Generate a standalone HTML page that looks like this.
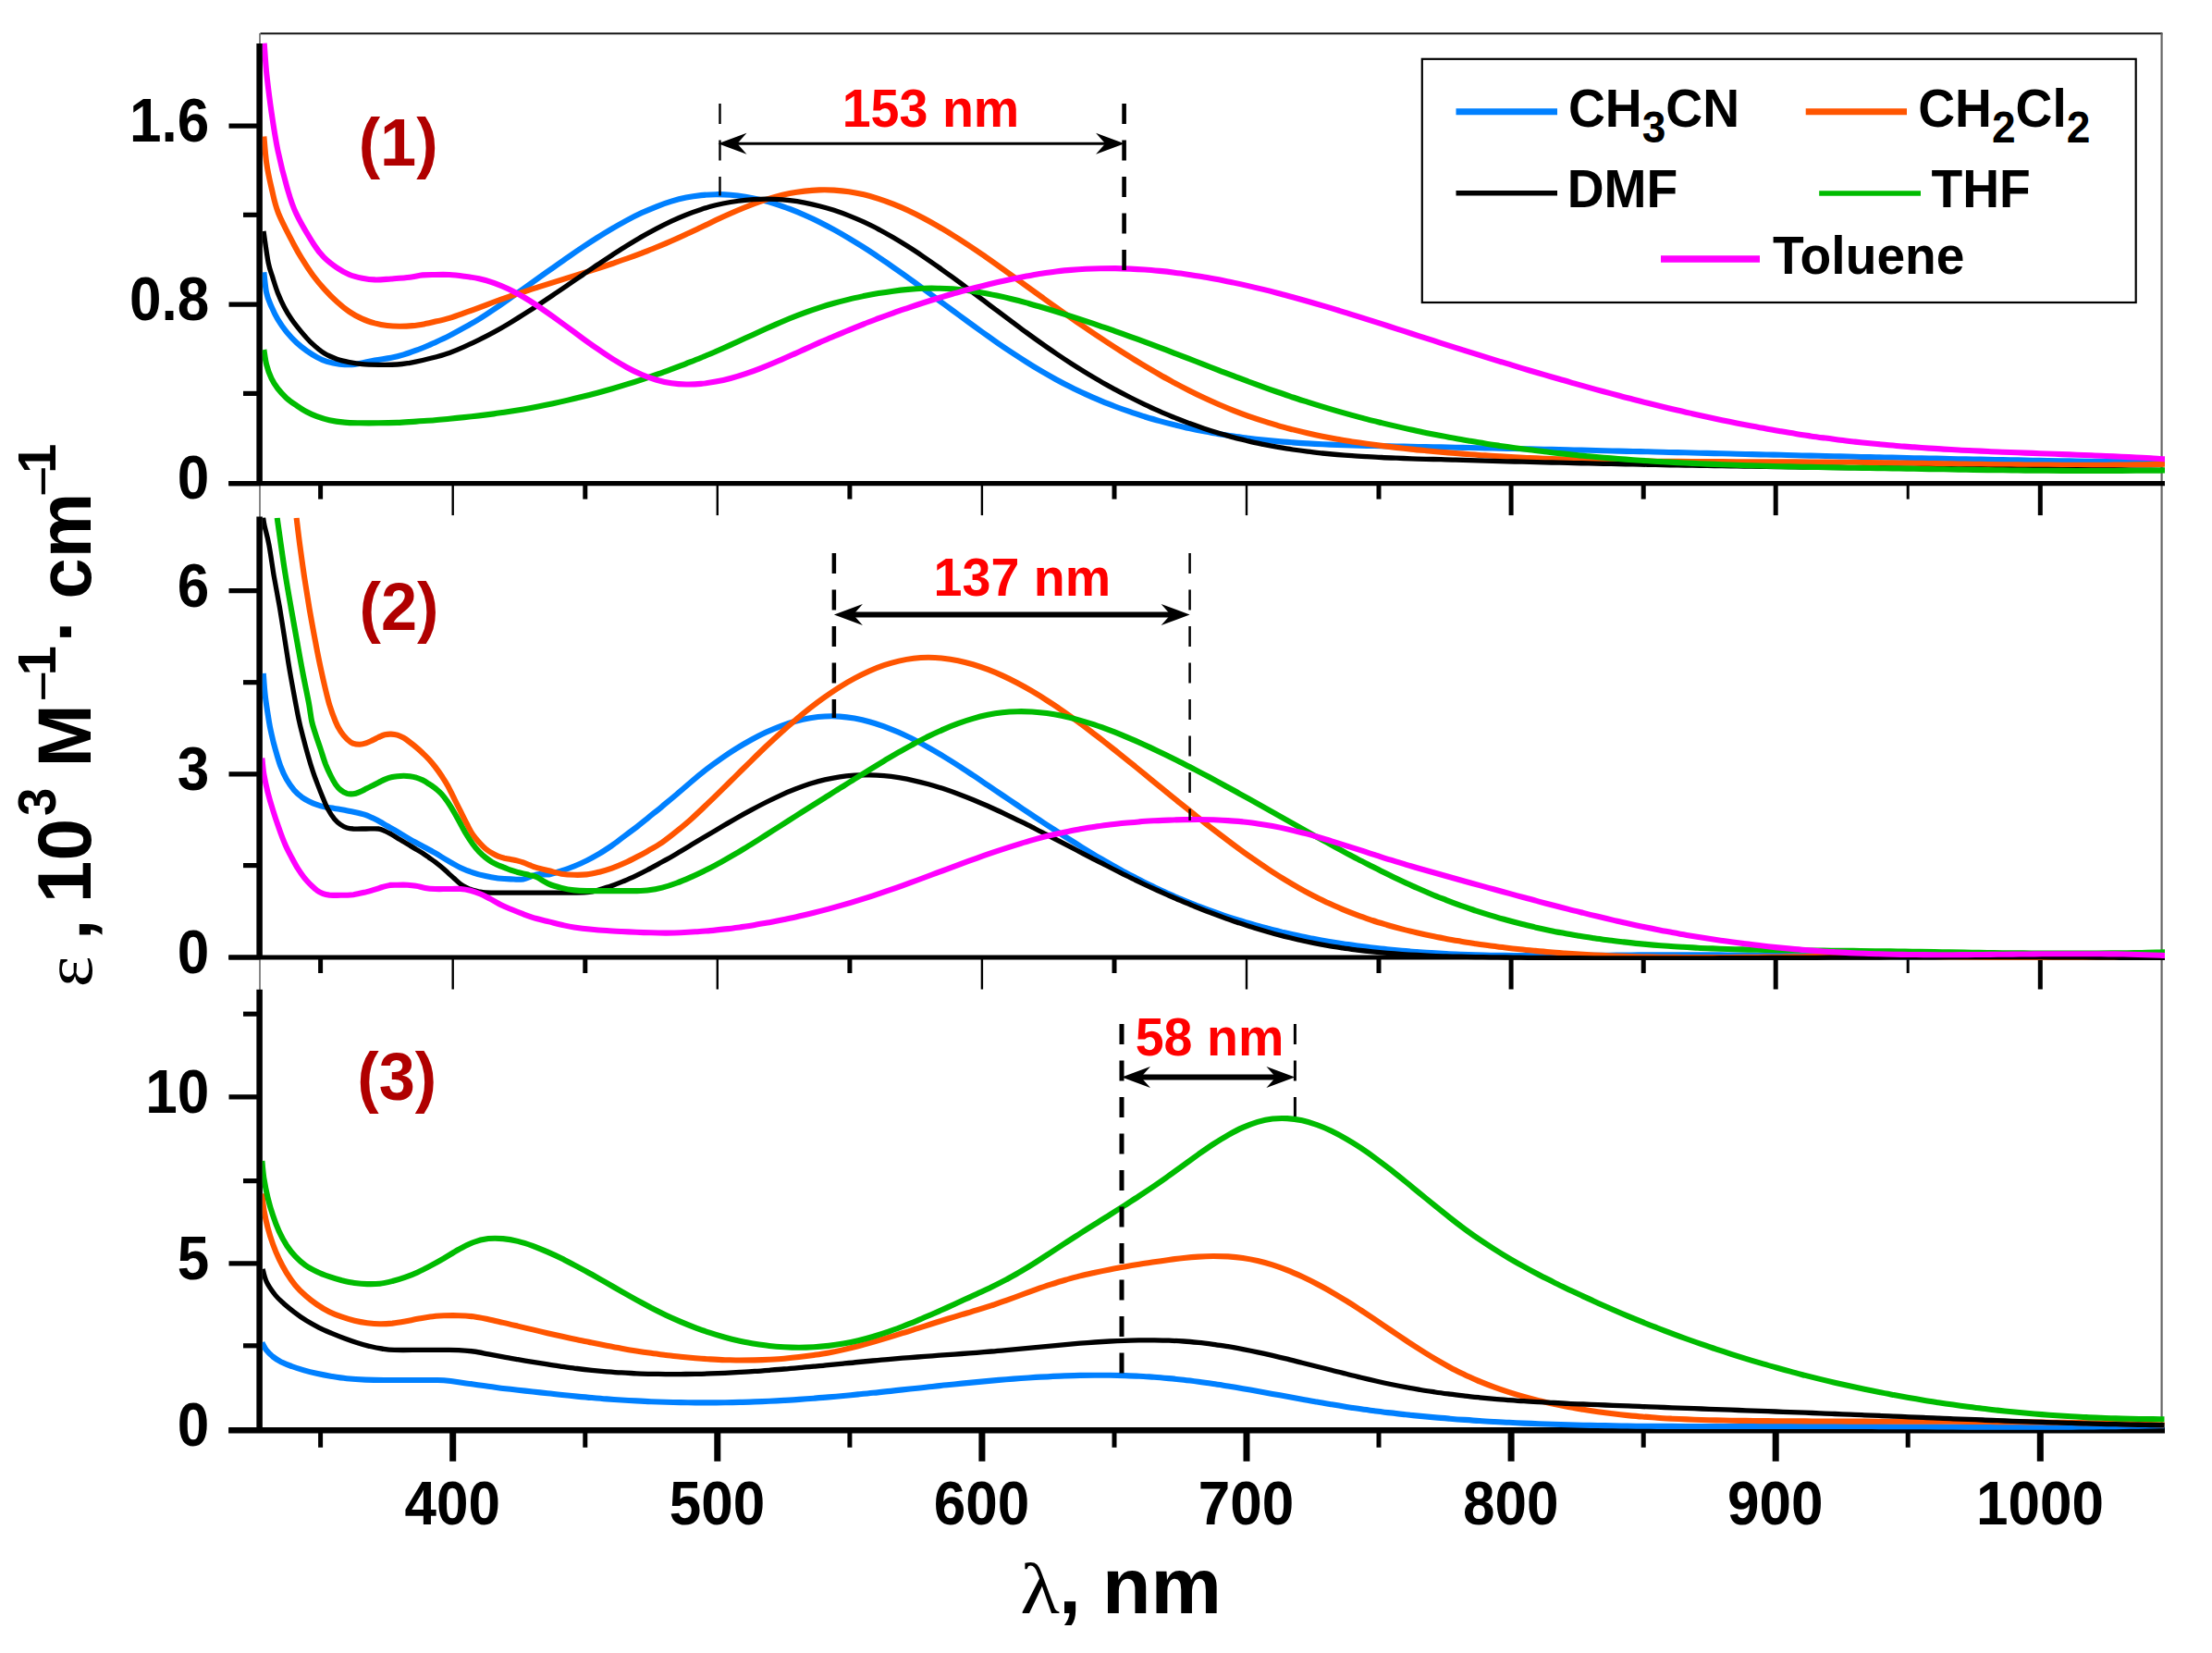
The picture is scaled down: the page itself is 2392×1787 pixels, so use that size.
<!DOCTYPE html>
<html><head><meta charset="utf-8"><title>UV-vis absorption spectra</title>
<style>html,body{margin:0;padding:0;background:#fff}svg{display:block}text{font-family:"Liberation Sans",Arial,sans-serif;font-weight:bold}.sym{font-family:"Liberation Serif","DejaVu Serif",serif;font-weight:normal}.n{font-weight:normal}</style></head><body>
<svg xmlns="http://www.w3.org/2000/svg" width="2392" height="1787" viewBox="0 0 2392 1787">
<rect width="2392" height="1787" fill="#fff"/>
<g fill="none" stroke-linecap="butt">
<path d="M281.5,36.3 H2338.5" stroke="#111" stroke-width="2"/>
<path d="M2337.6,36 V1546" stroke="#666" stroke-width="2.2"/>
<path d="M281,36 V1546" stroke="#555" stroke-width="1.4"/>
</g>
<g stroke="#000" fill="none">
<path d="M280.6,47.0 V522.6" stroke-width="6.5"/>
<path d="M247.2,522.6 H2341.0" stroke-width="5.2"/>
<path d="M346.6,522.6 V539.6" stroke-width="5.0"/>
<path d="M489.7,522.6 V557.1" stroke-width="2.4"/>
<path d="M632.8,522.6 V539.6" stroke-width="5.0"/>
<path d="M775.8,522.6 V557.1" stroke-width="2.4"/>
<path d="M918.9,522.6 V539.6" stroke-width="5.0"/>
<path d="M1061.9,522.6 V557.1" stroke-width="2.4"/>
<path d="M1205.0,522.6 V539.6" stroke-width="5.0"/>
<path d="M1348.0,522.6 V557.1" stroke-width="2.4"/>
<path d="M1491.0,522.6 V539.6" stroke-width="5.0"/>
<path d="M1634.1,522.6 V557.1" stroke-width="5.0"/>
<path d="M1777.2,522.6 V539.6" stroke-width="5.0"/>
<path d="M1920.2,522.6 V557.1" stroke-width="5.0"/>
<path d="M2063.2,522.6 V539.6" stroke-width="3.0"/>
<path d="M2206.3,522.6 V557.1" stroke-width="5.0"/>
<path d="M247.5,136.1 H280.6" stroke-width="5.2"/>
<path d="M263.0,232.3 H280.6" stroke-width="5.2"/>
<path d="M247.5,329.2 H280.6" stroke-width="5.2"/>
<path d="M263.0,425.4 H280.6" stroke-width="5.2"/>
<path d="M247.5,522.6 H280.6" stroke-width="5.2"/>
</g>
<g stroke="#000" fill="none">
<path d="M280.6,558.4 V1035.0" stroke-width="6.5"/>
<path d="M247.2,1035.0 H2341.0" stroke-width="5.2"/>
<path d="M346.6,1035.0 V1052.0" stroke-width="5.0"/>
<path d="M489.7,1035.0 V1069.5" stroke-width="2.4"/>
<path d="M632.8,1035.0 V1052.0" stroke-width="5.0"/>
<path d="M775.8,1035.0 V1069.5" stroke-width="2.4"/>
<path d="M918.9,1035.0 V1052.0" stroke-width="5.0"/>
<path d="M1061.9,1035.0 V1069.5" stroke-width="2.4"/>
<path d="M1205.0,1035.0 V1052.0" stroke-width="5.0"/>
<path d="M1348.0,1035.0 V1069.5" stroke-width="2.4"/>
<path d="M1491.0,1035.0 V1052.0" stroke-width="5.0"/>
<path d="M1634.1,1035.0 V1069.5" stroke-width="5.0"/>
<path d="M1777.2,1035.0 V1052.0" stroke-width="5.0"/>
<path d="M1920.2,1035.0 V1069.5" stroke-width="5.0"/>
<path d="M2063.2,1035.0 V1052.0" stroke-width="3.0"/>
<path d="M2206.3,1035.0 V1069.5" stroke-width="5.0"/>
<path d="M247.5,638.7 H280.6" stroke-width="5.2"/>
<path d="M263.0,737.7 H280.6" stroke-width="5.2"/>
<path d="M247.5,836.8 H280.6" stroke-width="5.2"/>
<path d="M263.0,935.6 H280.6" stroke-width="5.2"/>
<path d="M247.5,1035.0 H280.6" stroke-width="5.2"/>
</g>
<g stroke="#000" fill="none">
<path d="M280.6,1069.7 V1546.3" stroke-width="6.5"/>
<path d="M247.2,1546.3 H2341.0" stroke-width="6.6"/>
<path d="M346.6,1546.3 V1564.8" stroke-width="5.0"/>
<path d="M489.7,1546.3 V1579.8" stroke-width="7.0"/>
<path d="M632.8,1546.3 V1564.8" stroke-width="5.0"/>
<path d="M775.8,1546.3 V1579.8" stroke-width="7.0"/>
<path d="M918.9,1546.3 V1564.8" stroke-width="5.0"/>
<path d="M1061.9,1546.3 V1579.8" stroke-width="7.0"/>
<path d="M1205.0,1546.3 V1564.8" stroke-width="5.0"/>
<path d="M1348.0,1546.3 V1579.8" stroke-width="7.0"/>
<path d="M1491.0,1546.3 V1564.8" stroke-width="5.0"/>
<path d="M1634.1,1546.3 V1579.8" stroke-width="7.0"/>
<path d="M1777.2,1546.3 V1564.8" stroke-width="5.0"/>
<path d="M1920.2,1546.3 V1579.8" stroke-width="7.0"/>
<path d="M2063.2,1546.3 V1564.8" stroke-width="5.0"/>
<path d="M2206.3,1546.3 V1579.8" stroke-width="7.0"/>
<path d="M263.0,1096.2 H280.6" stroke-width="5.2"/>
<path d="M247.5,1185.8 H280.6" stroke-width="5.2"/>
<path d="M263.0,1276.6 H280.6" stroke-width="5.2"/>
<path d="M247.5,1365.9 H280.6" stroke-width="5.2"/>
<path d="M263.0,1454.8 H280.6" stroke-width="5.2"/>
<path d="M247.5,1546.3 H280.6" stroke-width="5.2"/>
</g>
<clipPath id="c_p1"><rect x="283.8" y="36.0" width="2057.2" height="489.6"/></clipPath>
<g clip-path="url(#c_p1)" fill="none" stroke-linejoin="round">
<path d="M285.4,294.3 C285.9,298.0 286.8,310.5 288.2,316.7 C289.5,323.0 291.6,326.9 293.6,331.7 C295.7,336.5 297.7,340.8 300.4,345.3 C303.1,349.8 306.5,354.7 309.9,358.9 C313.3,363.1 317.2,367.1 320.8,370.5 C324.5,373.9 328.1,376.7 331.7,379.3 C335.4,381.9 339.0,384.2 342.6,386.1 C346.2,388.1 349.4,389.7 353.5,390.9 C357.6,392.1 362.1,393.1 367.1,393.6 C372.1,394.1 377.1,394.6 383.4,393.9 C389.8,393.2 398.6,390.7 405.2,389.5 C411.8,388.4 417.7,387.8 422.9,386.8 C428.1,385.8 432.0,384.8 436.5,383.4 C441.1,382.1 445.6,380.4 450.1,378.7 C454.7,377.0 460.4,374.6 463.7,373.2 C467.1,371.8 466.3,372.2 470.0,370.5 C473.7,368.8 480.7,365.6 486.0,362.9 C491.3,360.2 496.7,357.2 502.0,354.2 C507.3,351.3 512.7,348.3 518.0,345.0 C523.3,341.7 528.7,338.1 534.0,334.5 C539.3,330.9 544.7,327.2 550.0,323.4 C555.3,319.7 560.7,315.9 566.0,312.2 C571.3,308.4 576.7,304.6 582.0,300.8 C587.3,297.0 592.7,293.2 598.0,289.4 C603.3,285.6 608.7,281.9 614.0,278.2 C619.3,274.5 624.7,270.8 630.0,267.3 C635.3,263.7 640.7,260.2 646.0,256.9 C651.3,253.5 656.7,250.2 662.0,247.1 C667.3,244.0 672.7,241.0 678.0,238.1 C683.3,235.3 688.7,232.6 694.0,230.1 C699.3,227.7 704.7,225.4 710.0,223.3 C715.3,221.2 720.7,219.3 726.0,217.7 C731.3,216.1 736.7,214.7 742.0,213.6 C747.3,212.5 752.7,211.7 758.0,211.1 C763.3,210.6 768.7,210.3 774.0,210.2 C779.3,210.1 784.7,210.3 790.0,210.7 C795.3,211.1 800.7,211.8 806.0,212.7 C811.3,213.5 816.7,214.6 822.0,215.9 C827.3,217.2 832.7,218.6 838.0,220.3 C843.3,222.0 848.7,223.8 854.0,225.9 C859.3,227.9 864.7,230.1 870.0,232.5 C875.3,234.8 880.7,237.3 886.0,240.0 C891.3,242.7 896.7,245.5 902.0,248.4 C907.3,251.3 912.7,254.4 918.0,257.6 C923.3,260.8 928.7,264.1 934.0,267.4 C939.3,270.8 944.7,274.3 950.0,277.9 C955.3,281.5 960.7,285.2 966.0,288.9 C971.3,292.6 976.7,296.4 982.0,300.2 C987.3,304.1 992.7,308.0 998.0,311.9 C1003.3,315.8 1008.7,319.7 1014.0,323.7 C1019.3,327.6 1024.7,331.6 1030.0,335.5 C1035.3,339.4 1040.7,343.4 1046.0,347.3 C1051.3,351.2 1056.7,355.1 1062.0,358.9 C1067.3,362.7 1072.7,366.5 1078.0,370.2 C1083.3,373.9 1088.7,377.5 1094.0,381.1 C1099.3,384.6 1104.7,388.1 1110.0,391.4 C1115.3,394.8 1120.7,398.1 1126.0,401.2 C1131.3,404.3 1136.7,407.3 1142.0,410.2 C1147.3,413.1 1152.7,415.9 1158.0,418.5 C1163.3,421.2 1168.7,423.7 1174.0,426.1 C1179.3,428.6 1184.7,430.9 1190.0,433.1 C1195.3,435.3 1200.7,437.5 1206.0,439.5 C1211.3,441.5 1216.7,443.4 1222.0,445.2 C1227.3,447.1 1232.7,448.8 1238.0,450.5 C1243.3,452.1 1248.7,453.7 1254.0,455.1 C1259.3,456.6 1264.7,458.0 1270.0,459.3 C1275.3,460.6 1280.7,461.9 1286.0,463.0 C1291.3,464.2 1296.7,465.3 1302.0,466.3 C1307.3,467.3 1312.7,468.3 1318.0,469.2 C1323.3,470.0 1328.7,470.9 1334.0,471.6 C1339.3,472.4 1344.7,473.1 1350.0,473.8 C1355.3,474.4 1360.7,475.0 1366.0,475.6 C1371.3,476.1 1376.7,476.6 1382.0,477.1 C1387.3,477.6 1392.7,478.0 1398.0,478.4 C1403.3,478.8 1408.7,479.1 1414.0,479.4 C1419.3,479.7 1424.7,480.0 1430.0,480.3 C1435.3,480.5 1440.7,480.7 1446.0,480.9 C1451.3,481.1 1456.7,481.3 1462.0,481.5 C1467.3,481.6 1472.7,481.8 1478.0,481.9 C1483.3,482.0 1488.7,482.1 1494.0,482.2 C1499.3,482.3 1504.7,482.4 1510.0,482.5 C1515.3,482.6 1520.7,482.7 1526.0,482.8 C1531.3,482.9 1536.7,483.0 1542.0,483.1 C1547.3,483.2 1552.7,483.3 1558.0,483.4 C1563.3,483.5 1568.7,483.6 1574.0,483.7 C1579.3,483.8 1584.7,483.9 1590.0,484.0 C1595.3,484.1 1600.7,484.2 1606.0,484.4 C1611.3,484.5 1616.7,484.6 1622.0,484.7 C1627.3,484.8 1632.7,484.9 1638.0,485.0 C1643.3,485.1 1648.7,485.3 1654.0,485.4 C1659.3,485.5 1664.7,485.6 1670.0,485.7 C1675.3,485.8 1680.7,486.0 1686.0,486.1 C1691.3,486.2 1696.7,486.3 1702.0,486.5 C1707.3,486.6 1712.7,486.7 1718.0,486.8 C1723.3,486.9 1728.7,487.1 1734.0,487.2 C1739.3,487.3 1744.7,487.4 1750.0,487.6 C1755.3,487.7 1760.7,487.8 1766.0,488.0 C1771.3,488.1 1776.7,488.2 1782.0,488.3 C1787.3,488.5 1792.7,488.6 1798.0,488.7 C1803.3,488.9 1808.7,489.0 1814.0,489.1 C1819.3,489.2 1824.7,489.4 1830.0,489.5 C1835.3,489.6 1840.7,489.8 1846.0,489.9 C1851.3,490.0 1856.7,490.2 1862.0,490.3 C1867.3,490.4 1872.7,490.5 1878.0,490.7 C1883.3,490.8 1888.7,490.9 1894.0,491.1 C1899.3,491.2 1904.7,491.3 1910.0,491.5 C1915.3,491.6 1920.7,491.7 1926.0,491.8 C1931.3,492.0 1936.7,492.1 1942.0,492.2 C1947.3,492.4 1952.7,492.5 1958.0,492.6 C1963.3,492.7 1968.7,492.9 1974.0,493.0 C1979.3,493.1 1984.7,493.2 1990.0,493.4 C1995.3,493.5 2000.7,493.6 2006.0,493.7 C2011.3,493.9 2016.7,494.0 2022.0,494.1 C2027.3,494.2 2032.7,494.3 2038.0,494.5 C2043.3,494.6 2048.7,494.7 2054.0,494.8 C2059.3,494.9 2064.7,495.1 2070.0,495.2 C2075.3,495.3 2080.7,495.4 2086.0,495.5 C2091.3,495.6 2096.7,495.7 2102.0,495.8 C2107.3,496.0 2112.7,496.1 2118.0,496.2 C2123.3,496.3 2128.7,496.4 2134.0,496.5 C2139.3,496.6 2144.7,496.7 2150.0,496.8 C2155.3,496.9 2160.7,497.0 2166.0,497.1 C2171.3,497.2 2176.7,497.3 2182.0,497.4 C2187.3,497.5 2192.7,497.6 2198.0,497.7 C2203.3,497.8 2208.7,497.9 2214.0,498.0 C2219.3,498.0 2224.7,498.1 2230.0,498.2 C2235.3,498.3 2240.7,498.4 2246.0,498.5 C2251.3,498.5 2256.7,498.6 2262.0,498.7 C2267.3,498.8 2272.7,498.8 2278.0,498.9 C2283.3,499.0 2288.7,499.1 2294.0,499.1 C2299.3,499.2 2304.7,499.3 2310.0,499.3 C2315.3,499.4 2320.8,499.5 2326.0,499.5 C2331.2,499.6 2338.5,499.6 2341.0,499.7" stroke="#0080ff" stroke-width="6.1"/>
<path d="M285.4,147.5 C285.9,152.3 286.8,166.8 288.2,176.1 C289.5,185.4 291.5,194.3 293.6,203.3 C295.8,212.4 297.0,220.3 301.1,230.6 C305.2,240.8 313.7,256.5 318.1,265.0 C322.5,273.5 324.2,275.9 327.6,281.3 C331.0,286.8 334.7,292.4 338.5,297.7 C342.4,302.9 346.5,307.9 350.8,312.6 C355.1,317.4 359.9,322.2 364.4,326.2 C368.9,330.3 373.5,334.1 378.0,337.1 C382.5,340.2 387.1,342.6 391.6,344.6 C396.1,346.7 400.7,348.1 405.2,349.4 C409.8,350.6 414.3,351.5 418.8,352.1 C423.4,352.7 427.9,352.8 432.4,352.8 C437.0,352.8 441.5,352.6 446.1,352.1 C450.6,351.7 455.7,350.8 459.7,350.1 C463.7,349.4 465.6,348.9 470.0,347.8 C474.4,346.8 480.7,345.4 486.0,343.8 C491.3,342.3 496.7,340.3 502.0,338.4 C507.3,336.6 512.7,334.6 518.0,332.6 C523.3,330.6 528.7,328.5 534.0,326.5 C539.3,324.6 544.7,322.7 550.0,320.9 C555.3,319.0 560.7,317.3 566.0,315.6 C571.3,313.8 576.7,312.1 582.0,310.4 C587.3,308.7 592.7,307.1 598.0,305.4 C603.3,303.7 608.7,302.1 614.0,300.4 C619.3,298.7 624.7,297.1 630.0,295.4 C635.3,293.7 640.7,292.0 646.0,290.3 C651.3,288.6 656.7,286.8 662.0,285.0 C667.3,283.2 672.7,281.4 678.0,279.5 C683.3,277.5 688.7,275.6 694.0,273.6 C699.3,271.5 704.7,269.5 710.0,267.3 C715.3,265.1 720.7,262.8 726.0,260.5 C731.3,258.2 736.7,255.7 742.0,253.2 C747.3,250.8 752.7,248.2 758.0,245.7 C763.3,243.2 768.7,240.6 774.0,238.1 C779.3,235.6 784.7,233.1 790.0,230.8 C795.3,228.4 800.7,226.1 806.0,224.0 C811.3,221.8 816.7,219.7 822.0,217.9 C827.3,216.1 832.7,214.4 838.0,212.9 C843.3,211.4 848.7,210.1 854.0,209.1 C859.3,208.0 864.7,207.2 870.0,206.6 C875.3,206.0 880.7,205.6 886.0,205.4 C891.3,205.2 896.7,205.3 902.0,205.6 C907.3,205.9 912.7,206.4 918.0,207.2 C923.3,208.0 928.7,209.0 934.0,210.3 C939.3,211.6 944.7,213.1 950.0,214.8 C955.3,216.5 960.7,218.5 966.0,220.6 C971.3,222.7 976.7,225.0 982.0,227.5 C987.3,230.0 992.7,232.7 998.0,235.5 C1003.3,238.3 1008.7,241.3 1014.0,244.4 C1019.3,247.5 1024.7,250.7 1030.0,254.0 C1035.3,257.3 1040.7,260.8 1046.0,264.3 C1051.3,267.8 1056.7,271.4 1062.0,275.1 C1067.3,278.8 1072.7,282.5 1078.0,286.3 C1083.3,290.1 1088.7,293.9 1094.0,297.7 C1099.3,301.5 1104.7,305.4 1110.0,309.3 C1115.3,313.1 1120.7,317.0 1126.0,320.8 C1131.3,324.6 1136.7,328.5 1142.0,332.2 C1147.3,336.0 1152.7,339.8 1158.0,343.5 C1163.3,347.2 1168.7,350.9 1174.0,354.5 C1179.3,358.2 1184.7,361.8 1190.0,365.3 C1195.3,368.9 1200.7,372.4 1206.0,375.8 C1211.3,379.2 1216.7,382.6 1222.0,385.9 C1227.3,389.3 1232.7,392.5 1238.0,395.7 C1243.3,398.9 1248.7,402.0 1254.0,405.0 C1259.3,408.1 1264.7,411.0 1270.0,413.9 C1275.3,416.8 1280.7,419.6 1286.0,422.3 C1291.3,425.0 1296.7,427.6 1302.0,430.1 C1307.3,432.6 1312.7,435.0 1318.0,437.3 C1323.3,439.6 1328.7,441.8 1334.0,443.9 C1339.3,446.0 1344.7,448.0 1350.0,449.9 C1355.3,451.7 1360.7,453.5 1366.0,455.2 C1371.3,456.9 1376.7,458.5 1382.0,460.1 C1387.3,461.6 1392.7,463.0 1398.0,464.4 C1403.3,465.7 1408.7,467.0 1414.0,468.2 C1419.3,469.4 1424.7,470.6 1430.0,471.7 C1435.3,472.7 1440.7,473.7 1446.0,474.7 C1451.3,475.7 1456.7,476.5 1462.0,477.4 C1467.3,478.2 1472.7,479.0 1478.0,479.8 C1483.3,480.6 1488.7,481.3 1494.0,481.9 C1499.3,482.6 1504.7,483.2 1510.0,483.9 C1515.3,484.5 1520.7,485.0 1526.0,485.6 C1531.3,486.2 1536.7,486.7 1542.0,487.2 C1547.3,487.7 1552.7,488.2 1558.0,488.7 C1563.3,489.1 1568.7,489.6 1574.0,490.0 C1579.3,490.4 1584.7,490.8 1590.0,491.2 C1595.3,491.6 1600.7,492.0 1606.0,492.3 C1611.3,492.7 1616.7,493.0 1622.0,493.3 C1627.3,493.6 1632.7,493.9 1638.0,494.2 C1643.3,494.5 1648.7,494.8 1654.0,495.0 C1659.3,495.2 1664.7,495.5 1670.0,495.7 C1675.3,495.9 1680.7,496.1 1686.0,496.3 C1691.3,496.5 1696.7,496.7 1702.0,496.8 C1707.3,497.0 1712.7,497.2 1718.0,497.3 C1723.3,497.5 1728.7,497.6 1734.0,497.7 C1739.3,497.8 1744.7,497.9 1750.0,498.0 C1755.3,498.1 1760.7,498.2 1766.0,498.3 C1771.3,498.4 1776.7,498.5 1782.0,498.5 C1787.3,498.6 1792.7,498.7 1798.0,498.7 C1803.3,498.8 1808.7,498.8 1814.0,498.9 C1819.3,498.9 1824.7,498.9 1830.0,499.0 C1835.3,499.0 1840.7,499.0 1846.0,499.1 C1851.3,499.1 1856.7,499.1 1862.0,499.1 C1867.3,499.2 1872.7,499.2 1878.0,499.2 C1883.3,499.2 1888.7,499.2 1894.0,499.2 C1899.3,499.3 1904.7,499.3 1910.0,499.3 C1915.3,499.3 1920.7,499.3 1926.0,499.3 C1931.3,499.3 1936.7,499.4 1942.0,499.4 C1947.3,499.4 1952.7,499.4 1958.0,499.5 C1963.3,499.5 1968.7,499.5 1974.0,499.6 C1979.3,499.6 1984.7,499.6 1990.0,499.7 C1995.3,499.7 2000.7,499.8 2006.0,499.8 C2011.3,499.9 2016.7,500.0 2022.0,500.0 C2027.3,500.1 2032.7,500.2 2038.0,500.2 C2043.3,500.3 2048.7,500.4 2054.0,500.5 C2059.3,500.6 2064.7,500.6 2070.0,500.7 C2075.3,500.8 2080.7,500.9 2086.0,501.0 C2091.3,501.1 2096.7,501.1 2102.0,501.2 C2107.3,501.3 2112.7,501.4 2118.0,501.5 C2123.3,501.6 2128.7,501.6 2134.0,501.7 C2139.3,501.8 2144.7,501.9 2150.0,502.0 C2155.3,502.0 2160.7,502.1 2166.0,502.2 C2171.3,502.2 2176.7,502.3 2182.0,502.4 C2187.3,502.4 2192.7,502.5 2198.0,502.5 C2203.3,502.6 2208.7,502.6 2214.0,502.6 C2219.3,502.7 2224.7,502.7 2230.0,502.7 C2235.3,502.7 2240.7,502.8 2246.0,502.8 C2251.3,502.8 2256.7,502.8 2262.0,502.7 C2267.3,502.7 2272.7,502.7 2278.0,502.7 C2283.3,502.6 2288.7,502.6 2294.0,502.5 C2299.3,502.5 2304.7,502.4 2310.0,502.3 C2315.3,502.2 2320.8,502.1 2326.0,502.0 C2331.2,501.9 2338.5,501.8 2341.0,501.7" stroke="#ff5500" stroke-width="6.1"/>
<path d="M285.0,250.0 C285.9,255.7 288.5,275.7 290.2,284.1 C291.9,292.5 293.3,294.9 295.0,300.4 C296.7,305.8 298.4,311.5 300.4,316.7 C302.5,321.9 304.7,326.9 307.2,331.7 C309.7,336.5 312.4,341.0 315.4,345.3 C318.3,349.6 321.3,353.2 324.9,357.6 C328.5,361.9 332.9,367.1 337.2,371.2 C341.5,375.2 346.2,379.2 350.8,382.1 C355.3,384.9 359.9,386.6 364.4,388.2 C368.9,389.8 373.5,390.7 378.0,391.6 C382.5,392.5 386.4,393.2 391.6,393.6 C396.8,394.1 403.0,394.2 409.3,394.3 C415.7,394.4 424.0,394.4 429.7,394.0 C435.4,393.7 438.8,393.0 443.3,392.3 C447.9,391.5 452.5,390.5 456.9,389.5 C461.4,388.5 465.2,387.6 470.0,386.3 C474.8,384.9 480.7,383.3 486.0,381.4 C491.3,379.5 496.7,377.2 502.0,374.8 C507.3,372.5 512.7,369.9 518.0,367.3 C523.3,364.7 528.7,362.0 534.0,359.1 C539.3,356.2 544.7,353.1 550.0,349.9 C555.3,346.7 560.7,343.4 566.0,340.1 C571.3,336.7 576.7,333.2 582.0,329.7 C587.3,326.2 592.7,322.6 598.0,319.0 C603.3,315.4 608.7,311.8 614.0,308.1 C619.3,304.5 624.7,300.8 630.0,297.2 C635.3,293.5 640.7,289.9 646.0,286.3 C651.3,282.7 656.7,279.2 662.0,275.7 C667.3,272.3 672.7,268.8 678.0,265.5 C683.3,262.2 688.7,259.0 694.0,255.9 C699.3,252.9 704.7,249.9 710.0,247.1 C715.3,244.3 720.7,241.6 726.0,239.1 C731.3,236.6 736.7,234.3 742.0,232.2 C747.3,230.0 752.7,228.1 758.0,226.4 C763.3,224.7 768.7,223.2 774.0,221.8 C779.3,220.5 784.7,219.4 790.0,218.5 C795.3,217.6 800.7,216.8 806.0,216.3 C811.3,215.8 816.7,215.4 822.0,215.3 C827.3,215.1 832.7,215.2 838.0,215.4 C843.3,215.7 848.7,216.1 854.0,216.7 C859.3,217.3 864.7,218.1 870.0,219.1 C875.3,220.1 880.7,221.3 886.0,222.7 C891.3,224.0 896.7,225.6 902.0,227.3 C907.3,229.1 912.7,231.0 918.0,233.1 C923.3,235.2 928.7,237.5 934.0,239.9 C939.3,242.4 944.7,245.0 950.0,247.8 C955.3,250.7 960.7,253.6 966.0,256.8 C971.3,259.9 976.7,263.2 982.0,266.6 C987.3,269.9 992.7,273.5 998.0,277.1 C1003.3,280.7 1008.7,284.4 1014.0,288.2 C1019.3,292.0 1024.7,295.8 1030.0,299.7 C1035.3,303.6 1040.7,307.6 1046.0,311.6 C1051.3,315.6 1056.7,319.6 1062.0,323.6 C1067.3,327.7 1072.7,331.7 1078.0,335.7 C1083.3,339.7 1088.7,343.7 1094.0,347.7 C1099.3,351.7 1104.7,355.6 1110.0,359.5 C1115.3,363.4 1120.7,367.3 1126.0,371.0 C1131.3,374.8 1136.7,378.5 1142.0,382.1 C1147.3,385.7 1152.7,389.3 1158.0,392.7 C1163.3,396.1 1168.7,399.5 1174.0,402.7 C1179.3,406.0 1184.7,409.1 1190.0,412.2 C1195.3,415.3 1200.7,418.2 1206.0,421.1 C1211.3,424.0 1216.7,426.8 1222.0,429.5 C1227.3,432.2 1232.7,434.8 1238.0,437.3 C1243.3,439.9 1248.7,442.3 1254.0,444.6 C1259.3,447.0 1264.7,449.2 1270.0,451.4 C1275.3,453.5 1280.7,455.6 1286.0,457.6 C1291.3,459.5 1296.7,461.4 1302.0,463.2 C1307.3,465.0 1312.7,466.7 1318.0,468.3 C1323.3,469.9 1328.7,471.4 1334.0,472.9 C1339.3,474.3 1344.7,475.6 1350.0,476.9 C1355.3,478.2 1360.7,479.3 1366.0,480.4 C1371.3,481.5 1376.7,482.5 1382.0,483.4 C1387.3,484.3 1392.7,485.2 1398.0,486.0 C1403.3,486.8 1408.7,487.5 1414.0,488.1 C1419.3,488.8 1424.7,489.4 1430.0,490.0 C1435.3,490.5 1440.7,491.0 1446.0,491.5 C1451.3,491.9 1456.7,492.3 1462.0,492.7 C1467.3,493.1 1472.7,493.4 1478.0,493.7 C1483.3,494.0 1488.7,494.3 1494.0,494.5 C1499.3,494.8 1504.7,495.0 1510.0,495.2 C1515.3,495.4 1520.7,495.6 1526.0,495.8 C1531.3,495.9 1536.7,496.1 1542.0,496.3 C1547.3,496.4 1552.7,496.6 1558.0,496.7 C1563.3,496.9 1568.7,497.1 1574.0,497.2 C1579.3,497.4 1584.7,497.5 1590.0,497.7 C1595.3,497.8 1600.7,498.0 1606.0,498.1 C1611.3,498.3 1616.7,498.4 1622.0,498.6 C1627.3,498.7 1632.7,498.9 1638.0,499.0 C1643.3,499.1 1648.7,499.3 1654.0,499.4 C1659.3,499.5 1664.7,499.7 1670.0,499.8 C1675.3,499.9 1680.7,500.1 1686.0,500.2 C1691.3,500.3 1696.7,500.4 1702.0,500.6 C1707.3,500.7 1712.7,500.8 1718.0,500.9 C1723.3,501.0 1728.7,501.2 1734.0,501.3 C1739.3,501.4 1744.7,501.5 1750.0,501.6 C1755.3,501.7 1760.7,501.8 1766.0,501.9 C1771.3,502.0 1776.7,502.2 1782.0,502.3 C1787.3,502.4 1792.7,502.5 1798.0,502.6 C1803.3,502.7 1808.7,502.8 1814.0,502.9 C1819.3,503.0 1824.7,503.1 1830.0,503.1 C1835.3,503.2 1840.7,503.3 1846.0,503.4 C1851.3,503.5 1856.7,503.6 1862.0,503.7 C1867.3,503.8 1872.7,503.9 1878.0,503.9 C1883.3,504.0 1888.7,504.1 1894.0,504.2 C1899.3,504.3 1904.7,504.4 1910.0,504.4 C1915.3,504.5 1920.7,504.6 1926.0,504.7 C1931.3,504.7 1936.7,504.8 1942.0,504.9 C1947.3,505.0 1952.7,505.0 1958.0,505.1 C1963.3,505.2 1968.7,505.2 1974.0,505.3 C1979.3,505.4 1984.7,505.4 1990.0,505.5 C1995.3,505.6 2000.7,505.6 2006.0,505.7 C2011.3,505.7 2016.7,505.8 2022.0,505.9 C2027.3,505.9 2032.7,506.0 2038.0,506.0 C2043.3,506.1 2048.7,506.2 2054.0,506.2 C2059.3,506.3 2064.7,506.3 2070.0,506.4 C2075.3,506.4 2080.7,506.5 2086.0,506.5 C2091.3,506.6 2096.7,506.6 2102.0,506.7 C2107.3,506.7 2112.7,506.8 2118.0,506.8 C2123.3,506.9 2128.7,506.9 2134.0,506.9 C2139.3,507.0 2144.7,507.0 2150.0,507.1 C2155.3,507.1 2160.7,507.2 2166.0,507.2 C2171.3,507.2 2176.7,507.3 2182.0,507.3 C2187.3,507.4 2192.7,507.4 2198.0,507.4 C2203.3,507.5 2208.7,507.5 2214.0,507.5 C2219.3,507.6 2224.7,507.6 2230.0,507.6 C2235.3,507.7 2240.7,507.7 2246.0,507.7 C2251.3,507.8 2256.7,507.8 2262.0,507.8 C2267.3,507.9 2272.7,507.9 2278.0,507.9 C2283.3,508.0 2288.7,508.0 2294.0,508.0 C2299.3,508.0 2304.7,508.1 2310.0,508.1 C2315.3,508.1 2320.8,508.2 2326.0,508.2 C2331.2,508.2 2338.5,508.2 2341.0,508.3" stroke="#000000" stroke-width="5.3"/>
<path d="M285.4,378.0 C285.9,380.7 286.8,389.1 288.2,394.3 C289.5,399.5 291.6,405.0 293.6,409.3 C295.7,413.6 297.7,416.6 300.4,420.2 C303.1,423.7 306.5,427.3 309.9,430.4 C313.3,433.4 317.2,436.0 320.8,438.5 C324.5,441.0 328.1,443.4 331.7,445.3 C335.4,447.3 338.5,448.6 342.6,450.1 C346.7,451.6 351.2,453.1 356.2,454.2 C361.2,455.3 367.1,456.1 372.6,456.6 C378.0,457.2 382.8,457.2 388.9,457.3 C395.0,457.4 402.5,457.4 409.3,457.3 C416.1,457.3 422.9,457.2 429.7,456.9 C436.5,456.6 443.4,456.0 450.1,455.6 C456.9,455.1 464.0,454.7 470.0,454.2 C476.0,453.8 480.7,453.2 486.0,452.7 C491.3,452.2 496.7,451.6 502.0,451.1 C507.3,450.5 512.7,450.0 518.0,449.4 C523.3,448.7 528.7,448.1 534.0,447.4 C539.3,446.7 544.7,445.9 550.0,445.1 C555.3,444.2 560.7,443.3 566.0,442.4 C571.3,441.5 576.7,440.5 582.0,439.4 C587.3,438.4 592.7,437.3 598.0,436.2 C603.3,435.1 608.7,433.9 614.0,432.6 C619.3,431.4 624.7,430.1 630.0,428.8 C635.3,427.5 640.7,426.1 646.0,424.7 C651.3,423.2 656.7,421.7 662.0,420.2 C667.3,418.7 672.7,417.1 678.0,415.4 C683.3,413.8 688.7,412.1 694.0,410.3 C699.3,408.6 704.7,406.8 710.0,404.9 C715.3,403.1 720.7,401.1 726.0,399.2 C731.3,397.2 736.7,395.2 742.0,393.1 C747.3,391.0 752.7,388.9 758.0,386.7 C763.3,384.5 768.7,382.3 774.0,380.0 C779.3,377.6 784.7,375.3 790.0,372.9 C795.3,370.5 800.7,368.0 806.0,365.6 C811.3,363.1 816.7,360.7 822.0,358.2 C827.3,355.8 832.7,353.4 838.0,351.1 C843.3,348.8 848.7,346.5 854.0,344.3 C859.3,342.1 864.7,340.0 870.0,338.1 C875.3,336.1 880.7,334.3 886.0,332.6 C891.3,330.8 896.7,329.2 902.0,327.8 C907.3,326.3 912.7,324.9 918.0,323.6 C923.3,322.3 928.7,321.2 934.0,320.1 C939.3,319.0 944.7,318.0 950.0,317.1 C955.3,316.2 960.7,315.4 966.0,314.7 C971.3,313.9 976.7,313.3 982.0,312.9 C987.3,312.4 992.7,312.0 998.0,311.8 C1003.3,311.6 1008.7,311.6 1014.0,311.7 C1019.3,311.8 1024.7,312.0 1030.0,312.4 C1035.3,312.8 1040.7,313.4 1046.0,314.1 C1051.3,314.8 1056.7,315.6 1062.0,316.5 C1067.3,317.4 1072.7,318.5 1078.0,319.6 C1083.3,320.7 1088.7,321.9 1094.0,323.3 C1099.3,324.6 1104.7,326.0 1110.0,327.4 C1115.3,328.9 1120.7,330.4 1126.0,332.0 C1131.3,333.5 1136.7,335.1 1142.0,336.8 C1147.3,338.5 1152.7,340.2 1158.0,341.9 C1163.3,343.6 1168.7,345.4 1174.0,347.2 C1179.3,348.9 1184.7,350.7 1190.0,352.6 C1195.3,354.4 1200.7,356.2 1206.0,358.1 C1211.3,359.9 1216.7,361.8 1222.0,363.8 C1227.3,365.7 1232.7,367.7 1238.0,369.6 C1243.3,371.6 1248.7,373.6 1254.0,375.6 C1259.3,377.7 1264.7,379.7 1270.0,381.8 C1275.3,383.8 1280.7,385.9 1286.0,387.9 C1291.3,390.0 1296.7,392.1 1302.0,394.1 C1307.3,396.2 1312.7,398.3 1318.0,400.3 C1323.3,402.4 1328.7,404.4 1334.0,406.4 C1339.3,408.5 1344.7,410.5 1350.0,412.5 C1355.3,414.4 1360.7,416.4 1366.0,418.3 C1371.3,420.3 1376.7,422.2 1382.0,424.0 C1387.3,425.9 1392.7,427.7 1398.0,429.5 C1403.3,431.3 1408.7,433.0 1414.0,434.7 C1419.3,436.4 1424.7,438.1 1430.0,439.7 C1435.3,441.3 1440.7,442.9 1446.0,444.4 C1451.3,445.9 1456.7,447.4 1462.0,448.9 C1467.3,450.3 1472.7,451.8 1478.0,453.1 C1483.3,454.5 1488.7,455.8 1494.0,457.1 C1499.3,458.4 1504.7,459.7 1510.0,460.9 C1515.3,462.2 1520.7,463.4 1526.0,464.5 C1531.3,465.7 1536.7,466.8 1542.0,467.9 C1547.3,469.0 1552.7,470.0 1558.0,471.1 C1563.3,472.1 1568.7,473.1 1574.0,474.0 C1579.3,475.0 1584.7,475.9 1590.0,476.8 C1595.3,477.7 1600.7,478.6 1606.0,479.4 C1611.3,480.3 1616.7,481.1 1622.0,481.9 C1627.3,482.7 1632.7,483.4 1638.0,484.2 C1643.3,484.9 1648.7,485.6 1654.0,486.3 C1659.3,487.0 1664.7,487.6 1670.0,488.2 C1675.3,488.9 1680.7,489.5 1686.0,490.1 C1691.3,490.6 1696.7,491.2 1702.0,491.7 C1707.3,492.3 1712.7,492.8 1718.0,493.3 C1723.3,493.8 1728.7,494.2 1734.0,494.7 C1739.3,495.1 1744.7,495.6 1750.0,496.0 C1755.3,496.4 1760.7,496.8 1766.0,497.2 C1771.3,497.5 1776.7,497.9 1782.0,498.2 C1787.3,498.6 1792.7,498.9 1798.0,499.2 C1803.3,499.5 1808.7,499.8 1814.0,500.1 C1819.3,500.4 1824.7,500.6 1830.0,500.9 C1835.3,501.1 1840.7,501.4 1846.0,501.6 C1851.3,501.8 1856.7,502.0 1862.0,502.2 C1867.3,502.4 1872.7,502.6 1878.0,502.8 C1883.3,503.0 1888.7,503.2 1894.0,503.3 C1899.3,503.5 1904.7,503.6 1910.0,503.8 C1915.3,503.9 1920.7,504.1 1926.0,504.2 C1931.3,504.3 1936.7,504.4 1942.0,504.5 C1947.3,504.7 1952.7,504.8 1958.0,504.9 C1963.3,505.0 1968.7,505.1 1974.0,505.2 C1979.3,505.3 1984.7,505.4 1990.0,505.5 C1995.3,505.6 2000.7,505.7 2006.0,505.7 C2011.3,505.8 2016.7,505.9 2022.0,506.0 C2027.3,506.1 2032.7,506.2 2038.0,506.3 C2043.3,506.4 2048.7,506.4 2054.0,506.5 C2059.3,506.6 2064.7,506.7 2070.0,506.8 C2075.3,506.9 2080.7,507.0 2086.0,507.1 C2091.3,507.2 2096.7,507.3 2102.0,507.3 C2107.3,507.4 2112.7,507.5 2118.0,507.6 C2123.3,507.7 2128.7,507.8 2134.0,507.9 C2139.3,507.9 2144.7,508.0 2150.0,508.1 C2155.3,508.2 2160.7,508.2 2166.0,508.3 C2171.3,508.4 2176.7,508.5 2182.0,508.5 C2187.3,508.6 2192.7,508.6 2198.0,508.7 C2203.3,508.7 2208.7,508.8 2214.0,508.8 C2219.3,508.9 2224.7,508.9 2230.0,508.9 C2235.3,509.0 2240.7,509.0 2246.0,509.0 C2251.3,509.0 2256.7,509.0 2262.0,509.0 C2267.3,509.0 2272.7,509.0 2278.0,509.0 C2283.3,509.0 2288.7,509.0 2294.0,508.9 C2299.3,508.9 2304.7,508.9 2310.0,508.8 C2315.3,508.8 2320.8,508.7 2326.0,508.6 C2331.2,508.6 2338.5,508.5 2341.0,508.4" stroke="#00bb00" stroke-width="6.1"/>
<path d="M285.7,46.8 C286.2,52.5 287.1,68.4 288.4,80.8 C289.8,93.3 291.6,108.1 293.6,121.7 C295.6,135.3 297.6,148.9 300.4,162.5 C303.3,176.1 307.3,192.0 310.6,203.3 C313.9,214.7 315.3,220.3 320.2,230.6 C325.0,240.8 334.8,257.0 339.9,265.0 C345.0,273.0 346.7,274.5 350.8,278.6 C354.9,282.7 359.9,286.4 364.4,289.5 C368.9,292.6 373.5,295.1 378.0,297.0 C382.5,298.8 387.1,299.8 391.6,300.7 C396.1,301.6 400.0,302.3 405.2,302.4 C410.4,302.6 416.6,301.9 422.9,301.5 C429.3,301.0 437.7,300.4 443.3,299.7 C449.0,299.0 452.5,297.8 456.9,297.4 C461.4,296.9 465.2,297.0 470.0,297.0 C474.8,296.9 480.7,296.8 486.0,297.0 C491.3,297.3 496.7,298.0 502.0,298.7 C507.3,299.4 512.7,300.1 518.0,301.3 C523.3,302.4 528.7,303.9 534.0,305.8 C539.3,307.7 544.7,309.9 550.0,312.4 C555.3,314.9 560.7,317.9 566.0,321.0 C571.3,324.1 576.7,327.6 582.0,331.1 C587.3,334.7 592.7,338.5 598.0,342.3 C603.3,346.1 608.7,350.0 614.0,353.9 C619.3,357.8 624.7,361.8 630.0,365.7 C635.3,369.6 640.7,373.4 646.0,377.1 C651.3,380.8 656.7,384.4 662.0,387.8 C667.3,391.1 672.7,394.3 678.0,397.2 C683.3,400.1 688.7,402.7 694.0,405.0 C699.3,407.3 704.7,409.2 710.0,410.7 C715.3,412.3 720.7,413.4 726.0,414.2 C731.3,415.0 736.7,415.4 742.0,415.5 C747.3,415.6 752.7,415.4 758.0,414.9 C763.3,414.4 768.7,413.6 774.0,412.6 C779.3,411.6 784.7,410.4 790.0,409.0 C795.3,407.5 800.7,405.9 806.0,404.1 C811.3,402.3 816.7,400.4 822.0,398.3 C827.3,396.3 832.7,394.1 838.0,391.8 C843.3,389.6 848.7,387.2 854.0,384.8 C859.3,382.5 864.7,380.0 870.0,377.6 C875.3,375.2 880.7,372.8 886.0,370.4 C891.3,368.1 896.7,365.7 902.0,363.5 C907.3,361.2 912.7,358.9 918.0,356.8 C923.3,354.6 928.7,352.4 934.0,350.3 C939.3,348.2 944.7,346.2 950.0,344.2 C955.3,342.2 960.7,340.3 966.0,338.3 C971.3,336.4 976.7,334.6 982.0,332.8 C987.3,331.0 992.7,329.2 998.0,327.5 C1003.3,325.8 1008.7,324.1 1014.0,322.5 C1019.3,320.9 1024.7,319.3 1030.0,317.8 C1035.3,316.2 1040.7,314.8 1046.0,313.3 C1051.3,311.9 1056.7,310.5 1062.0,309.2 C1067.3,307.8 1072.7,306.5 1078.0,305.3 C1083.3,304.1 1088.7,302.9 1094.0,301.7 C1099.3,300.6 1104.7,299.5 1110.0,298.5 C1115.3,297.6 1120.7,296.6 1126.0,295.8 C1131.3,295.0 1136.7,294.2 1142.0,293.5 C1147.3,292.9 1152.7,292.3 1158.0,291.9 C1163.3,291.4 1168.7,291.0 1174.0,290.8 C1179.3,290.5 1184.7,290.3 1190.0,290.2 C1195.3,290.1 1200.7,290.1 1206.0,290.1 C1211.3,290.2 1216.7,290.4 1222.0,290.6 C1227.3,290.8 1232.7,291.1 1238.0,291.5 C1243.3,291.9 1248.7,292.4 1254.0,292.9 C1259.3,293.4 1264.7,294.0 1270.0,294.7 C1275.3,295.3 1280.7,296.1 1286.0,296.9 C1291.3,297.7 1296.7,298.5 1302.0,299.4 C1307.3,300.3 1312.7,301.3 1318.0,302.3 C1323.3,303.4 1328.7,304.4 1334.0,305.6 C1339.3,306.7 1344.7,307.9 1350.0,309.1 C1355.3,310.3 1360.7,311.6 1366.0,312.9 C1371.3,314.2 1376.7,315.6 1382.0,317.0 C1387.3,318.3 1392.7,319.8 1398.0,321.2 C1403.3,322.7 1408.7,324.2 1414.0,325.7 C1419.3,327.2 1424.7,328.8 1430.0,330.4 C1435.3,331.9 1440.7,333.5 1446.0,335.2 C1451.3,336.8 1456.7,338.4 1462.0,340.1 C1467.3,341.7 1472.7,343.4 1478.0,345.1 C1483.3,346.8 1488.7,348.5 1494.0,350.2 C1499.3,351.9 1504.7,353.6 1510.0,355.3 C1515.3,357.0 1520.7,358.8 1526.0,360.5 C1531.3,362.2 1536.7,363.9 1542.0,365.6 C1547.3,367.3 1552.7,369.1 1558.0,370.8 C1563.3,372.5 1568.7,374.1 1574.0,375.8 C1579.3,377.5 1584.7,379.2 1590.0,380.9 C1595.3,382.5 1600.7,384.2 1606.0,385.9 C1611.3,387.5 1616.7,389.2 1622.0,390.8 C1627.3,392.4 1632.7,394.0 1638.0,395.7 C1643.3,397.3 1648.7,398.9 1654.0,400.5 C1659.3,402.0 1664.7,403.6 1670.0,405.2 C1675.3,406.7 1680.7,408.3 1686.0,409.8 C1691.3,411.4 1696.7,412.9 1702.0,414.4 C1707.3,415.9 1712.7,417.4 1718.0,418.9 C1723.3,420.4 1728.7,421.8 1734.0,423.3 C1739.3,424.7 1744.7,426.1 1750.0,427.5 C1755.3,429.0 1760.7,430.3 1766.0,431.7 C1771.3,433.1 1776.7,434.4 1782.0,435.8 C1787.3,437.1 1792.7,438.4 1798.0,439.7 C1803.3,441.0 1808.7,442.3 1814.0,443.5 C1819.3,444.8 1824.7,446.0 1830.0,447.2 C1835.3,448.4 1840.7,449.6 1846.0,450.8 C1851.3,451.9 1856.7,453.1 1862.0,454.2 C1867.3,455.3 1872.7,456.4 1878.0,457.5 C1883.3,458.5 1888.7,459.6 1894.0,460.6 C1899.3,461.6 1904.7,462.6 1910.0,463.5 C1915.3,464.5 1920.7,465.4 1926.0,466.3 C1931.3,467.2 1936.7,468.1 1942.0,468.9 C1947.3,469.8 1952.7,470.6 1958.0,471.4 C1963.3,472.2 1968.7,472.9 1974.0,473.6 C1979.3,474.4 1984.7,475.0 1990.0,475.7 C1995.3,476.4 2000.7,477.0 2006.0,477.6 C2011.3,478.2 2016.7,478.7 2022.0,479.3 C2027.3,479.8 2032.7,480.3 2038.0,480.8 C2043.3,481.3 2048.7,481.8 2054.0,482.2 C2059.3,482.6 2064.7,483.1 2070.0,483.4 C2075.3,483.8 2080.7,484.2 2086.0,484.6 C2091.3,484.9 2096.7,485.2 2102.0,485.6 C2107.3,485.9 2112.7,486.2 2118.0,486.5 C2123.3,486.7 2128.7,487.0 2134.0,487.3 C2139.3,487.5 2144.7,487.8 2150.0,488.0 C2155.3,488.3 2160.7,488.5 2166.0,488.7 C2171.3,488.9 2176.7,489.1 2182.0,489.3 C2187.3,489.5 2192.7,489.7 2198.0,489.9 C2203.3,490.1 2208.7,490.3 2214.0,490.5 C2219.3,490.7 2224.7,490.9 2230.0,491.1 C2235.3,491.3 2240.7,491.5 2246.0,491.7 C2251.3,491.9 2256.7,492.1 2262.0,492.3 C2267.3,492.6 2272.7,492.8 2278.0,493.0 C2283.3,493.2 2288.7,493.5 2294.0,493.7 C2299.3,494.0 2304.7,494.2 2310.0,494.5 C2315.3,494.8 2320.8,495.0 2326.0,495.3 C2331.2,495.6 2338.5,496.1 2341.0,496.2" stroke="#ff00ff" stroke-width="6.1"/>
</g>
<clipPath id="c_p2"><rect x="283.8" y="559.5" width="2057.2" height="478.5"/></clipPath>
<g clip-path="url(#c_p2)" fill="none" stroke-linejoin="round">
<path d="M284.8,727.9 C285.1,731.9 285.8,743.7 286.8,752.4 C287.8,761.0 289.8,773.1 290.9,780.0 C292.0,786.9 292.5,788.6 293.6,793.6 C294.7,798.6 296.1,804.3 297.7,809.9 C299.3,815.6 301.1,822.2 303.1,827.6 C305.2,833.1 307.4,838.2 309.9,842.6 C312.4,847.0 315.4,851.0 318.1,854.2 C320.8,857.4 323.6,859.6 326.3,861.7 C329.0,863.7 331.7,865.1 334.4,866.4 C337.2,867.8 339.9,868.9 342.6,869.8 C345.3,870.8 347.6,871.6 350.8,872.3 C354.0,873.0 358.0,873.3 361.7,873.9 C365.3,874.5 368.9,875.0 372.6,875.7 C376.2,876.4 379.8,877.2 383.4,878.0 C387.1,878.8 391.2,879.7 394.3,880.7 C397.5,881.7 399.8,882.9 402.5,884.1 C405.2,885.4 407.9,886.7 410.7,888.2 C413.4,889.7 415.7,891.2 418.8,893.0 C422.0,894.8 425.6,896.7 429.7,899.1 C433.8,901.5 438.8,904.7 443.3,907.3 C447.9,909.9 452.4,912.3 456.9,914.7 C461.5,917.2 466.0,919.6 470.6,922.2 C475.1,924.8 479.6,927.8 484.2,930.4 C488.7,933.0 493.2,935.7 497.8,937.9 C502.3,940.0 506.8,941.8 511.4,943.3 C515.9,944.9 520.5,946.1 525.0,947.1 C529.5,948.2 534.1,948.9 538.6,949.5 C543.1,950.0 547.7,950.3 552.2,950.4 C556.8,950.6 561.2,951.2 565.8,950.4 C570.5,949.6 575.4,946.2 580.0,945.4 C584.6,944.5 589.1,946.1 593.6,945.4 C598.1,944.7 602.7,942.8 607.2,941.3 C611.8,939.8 616.3,938.3 620.8,936.5 C625.4,934.7 629.9,932.7 634.4,930.4 C639.0,928.1 643.5,925.6 648.1,922.9 C652.6,920.2 657.1,917.2 661.7,914.1 C666.2,910.9 670.7,907.3 675.3,903.9 C679.8,900.5 684.8,896.8 688.9,893.7 C693.0,890.5 695.5,888.4 700.0,884.8 C704.5,881.1 710.7,876.2 716.0,871.8 C721.3,867.4 726.7,863.0 732.0,858.5 C737.3,853.9 742.7,849.2 748.0,844.7 C753.3,840.2 758.7,835.8 764.0,831.7 C769.3,827.6 774.7,823.7 780.0,820.0 C785.3,816.2 790.7,812.7 796.0,809.4 C801.3,806.1 806.7,802.9 812.0,800.0 C817.3,797.1 822.7,794.3 828.0,791.8 C833.3,789.4 838.7,787.1 844.0,785.1 C849.3,783.1 854.7,781.3 860.0,779.8 C865.3,778.4 870.7,777.2 876.0,776.3 C881.3,775.4 886.7,774.7 892.0,774.5 C897.3,774.2 902.7,774.2 908.0,774.6 C913.3,774.9 918.7,775.6 924.0,776.5 C929.3,777.5 934.7,778.7 940.0,780.2 C945.3,781.6 950.7,783.4 956.0,785.3 C961.3,787.3 966.7,789.5 972.0,791.8 C977.3,794.2 982.7,796.7 988.0,799.4 C993.3,802.2 998.7,805.1 1004.0,808.1 C1009.3,811.1 1014.7,814.2 1020.0,817.5 C1025.3,820.7 1030.7,824.1 1036.0,827.5 C1041.3,830.9 1046.7,834.5 1052.0,838.0 C1057.3,841.5 1062.7,845.2 1068.0,848.8 C1073.3,852.4 1078.7,856.0 1084.0,859.6 C1089.3,863.2 1094.7,866.8 1100.0,870.4 C1105.3,874.0 1110.7,877.6 1116.0,881.1 C1121.3,884.7 1126.7,888.2 1132.0,891.7 C1137.3,895.2 1142.7,898.6 1148.0,902.1 C1153.3,905.5 1158.7,908.8 1164.0,912.2 C1169.3,915.5 1174.7,918.8 1180.0,922.0 C1185.3,925.2 1190.7,928.3 1196.0,931.4 C1201.3,934.5 1206.7,937.5 1212.0,940.4 C1217.3,943.4 1222.7,946.2 1228.0,949.0 C1233.3,951.8 1238.7,954.4 1244.0,957.0 C1249.3,959.6 1254.7,962.1 1260.0,964.6 C1265.3,967.0 1270.7,969.3 1276.0,971.6 C1281.3,973.8 1286.7,976.0 1292.0,978.1 C1297.3,980.2 1302.7,982.2 1308.0,984.2 C1313.3,986.1 1318.7,988.0 1324.0,989.8 C1329.3,991.6 1334.7,993.3 1340.0,994.9 C1345.3,996.6 1350.7,998.1 1356.0,999.7 C1361.3,1001.2 1366.7,1002.6 1372.0,1004.0 C1377.3,1005.4 1382.7,1006.7 1388.0,1008.0 C1393.3,1009.2 1398.7,1010.4 1404.0,1011.5 C1409.3,1012.7 1414.7,1013.7 1420.0,1014.8 C1425.3,1015.8 1430.7,1016.8 1436.0,1017.7 C1441.3,1018.6 1446.7,1019.4 1452.0,1020.3 C1457.3,1021.1 1462.7,1021.8 1468.0,1022.5 C1473.3,1023.3 1478.7,1023.9 1484.0,1024.6 C1489.3,1025.2 1494.7,1025.8 1500.0,1026.3 C1505.3,1026.8 1510.7,1027.3 1516.0,1027.8 C1521.3,1028.3 1526.7,1028.7 1532.0,1029.1 C1537.3,1029.5 1542.7,1029.8 1548.0,1030.1 C1553.3,1030.5 1558.7,1030.8 1564.0,1031.0 C1569.3,1031.3 1574.7,1031.5 1580.0,1031.7 C1585.3,1031.9 1590.7,1032.1 1596.0,1032.3 C1601.3,1032.4 1606.7,1032.5 1612.0,1032.7 C1617.3,1032.8 1622.7,1032.9 1628.0,1032.9 C1633.3,1033.0 1638.7,1033.1 1644.0,1033.1 C1649.3,1033.1 1654.7,1033.2 1660.0,1033.2 C1665.3,1033.2 1670.7,1033.2 1676.0,1033.2 C1681.3,1033.2 1686.7,1033.1 1692.0,1033.1 C1697.3,1033.1 1702.7,1033.0 1708.0,1033.0 C1713.3,1032.9 1718.7,1032.9 1724.0,1032.8 C1729.3,1032.8 1734.7,1032.7 1740.0,1032.7 C1745.3,1032.6 1750.7,1032.6 1756.0,1032.5 C1761.3,1032.5 1766.7,1032.4 1772.0,1032.4 C1777.3,1032.3 1782.7,1032.3 1788.0,1032.3 C1793.3,1032.3 1798.7,1032.2 1804.0,1032.2 C1809.3,1032.2 1814.7,1032.2 1820.0,1032.2 C1825.3,1032.2 1830.7,1032.2 1836.0,1032.3 C1841.3,1032.3 1846.7,1032.3 1852.0,1032.3 C1857.3,1032.4 1862.7,1032.4 1868.0,1032.5 C1873.3,1032.5 1878.7,1032.5 1884.0,1032.6 C1889.3,1032.6 1894.7,1032.7 1900.0,1032.8 C1905.3,1032.8 1910.7,1032.9 1916.0,1032.9 C1921.3,1033.0 1926.7,1033.0 1932.0,1033.1 C1937.3,1033.2 1942.7,1033.2 1948.0,1033.3 C1953.3,1033.3 1958.7,1033.4 1964.0,1033.4 C1969.3,1033.5 1974.7,1033.6 1980.0,1033.6 C1985.3,1033.6 1990.7,1033.7 1996.0,1033.7 C2001.3,1033.8 2006.7,1033.8 2012.0,1033.9 C2017.3,1033.9 2022.7,1033.9 2028.0,1034.0 C2033.3,1034.0 2038.7,1034.0 2044.0,1034.0 C2049.3,1034.1 2054.7,1034.1 2060.0,1034.1 C2065.3,1034.1 2070.7,1034.1 2076.0,1034.2 C2081.3,1034.2 2086.7,1034.2 2092.0,1034.2 C2097.3,1034.2 2102.7,1034.2 2108.0,1034.2 C2113.3,1034.3 2118.7,1034.3 2124.0,1034.3 C2129.3,1034.3 2134.7,1034.3 2140.0,1034.3 C2145.3,1034.3 2150.7,1034.3 2156.0,1034.3 C2161.3,1034.3 2166.7,1034.3 2172.0,1034.3 C2177.3,1034.3 2182.7,1034.3 2188.0,1034.3 C2193.3,1034.3 2198.7,1034.3 2204.0,1034.3 C2209.3,1034.3 2214.7,1034.3 2220.0,1034.3 C2225.3,1034.3 2230.7,1034.3 2236.0,1034.3 C2241.3,1034.3 2246.7,1034.3 2252.0,1034.3 C2257.3,1034.3 2262.7,1034.3 2268.0,1034.3 C2273.3,1034.3 2278.7,1034.3 2284.0,1034.3 C2289.3,1034.4 2294.7,1034.4 2300.0,1034.4 C2305.3,1034.4 2310.7,1034.4 2316.0,1034.4 C2321.3,1034.4 2327.8,1034.4 2332.0,1034.4 C2336.2,1034.4 2339.7,1034.4 2341.2,1034.4" stroke="#0080ff" stroke-width="6.1"/>
<path d="M320.6,559.8 C321.2,564.6 322.8,578.5 324.2,589.0 C325.6,599.6 327.3,611.7 329.0,623.1 C330.7,634.4 332.5,645.7 334.4,657.1 C336.4,668.4 338.4,679.8 340.6,691.1 C342.7,702.5 344.9,713.8 347.4,725.1 C349.9,736.5 353.0,750.0 355.5,759.2 C358.1,768.3 360.6,774.7 362.8,780.0 C364.9,785.3 366.4,787.7 368.5,790.9 C370.6,794.1 373.0,796.9 375.3,799.1 C377.5,801.2 379.8,802.9 382.1,803.8 C384.4,804.8 386.6,804.8 388.9,804.8 C391.2,804.7 393.4,804.1 395.7,803.4 C398.0,802.7 400.2,801.5 402.5,800.4 C404.8,799.4 407.0,798.0 409.3,797.0 C411.6,796.0 413.8,794.9 416.1,794.3 C418.4,793.7 420.6,793.5 422.9,793.6 C425.2,793.7 427.5,794.0 429.7,794.7 C432.0,795.4 434.3,796.4 436.5,797.7 C438.8,799.0 441.1,800.8 443.3,802.5 C445.6,804.2 447.9,806.0 450.1,807.9 C452.4,809.8 454.7,811.9 456.9,814.0 C459.2,816.2 461.5,818.3 463.7,820.8 C466.0,823.3 468.3,826.1 470.6,829.0 C472.8,831.9 475.1,835.1 477.4,838.5 C479.6,841.9 481.9,845.3 484.2,849.4 C486.4,853.5 488.7,858.5 491.0,863.0 C493.2,867.6 495.5,872.1 497.8,876.6 C500.0,881.2 502.3,885.9 504.6,890.2 C506.8,894.6 509.1,899.1 511.4,902.5 C513.7,905.9 515.9,908.2 518.2,910.7 C520.5,913.2 522.7,915.5 525.0,917.5 C527.3,919.4 529.5,920.9 531.8,922.2 C534.1,923.6 536.3,924.7 538.6,925.6 C540.9,926.5 543.1,927.1 545.4,927.7 C547.7,928.2 550.0,928.6 552.2,929.0 C554.5,929.5 556.8,929.8 559.0,930.4 C561.3,931.0 563.6,931.6 565.8,932.4 C568.1,933.2 570.3,934.3 572.6,935.2 C575.0,936.1 576.5,936.9 580.0,937.9 C583.5,938.9 589.1,940.2 593.6,941.3 C598.1,942.4 602.7,943.9 607.2,944.7 C611.8,945.4 616.3,945.7 620.8,945.8 C625.4,945.9 629.9,945.9 634.4,945.4 C639.0,944.9 643.5,943.8 648.1,942.7 C652.6,941.5 657.1,940.2 661.7,938.6 C666.2,937.0 670.7,935.2 675.3,933.1 C679.8,931.1 684.8,928.5 688.9,926.3 C693.0,924.2 695.5,922.9 700.0,920.3 C704.5,917.7 710.7,914.3 716.0,910.7 C721.3,907.0 726.7,902.7 732.0,898.4 C737.3,894.1 742.7,889.7 748.0,884.9 C753.3,880.2 758.7,875.0 764.0,869.9 C769.3,864.8 774.7,859.6 780.0,854.3 C785.3,849.1 790.7,843.8 796.0,838.6 C801.3,833.3 806.7,828.0 812.0,822.8 C817.3,817.6 822.7,812.4 828.0,807.3 C833.3,802.3 838.7,797.3 844.0,792.5 C849.3,787.7 854.7,783.0 860.0,778.5 C865.3,774.0 870.7,769.6 876.0,765.4 C881.3,761.3 886.7,757.2 892.0,753.5 C897.3,749.7 902.7,746.1 908.0,742.7 C913.3,739.4 918.7,736.2 924.0,733.4 C929.3,730.5 934.7,727.9 940.0,725.5 C945.3,723.1 950.7,721.0 956.0,719.2 C961.3,717.4 966.7,715.8 972.0,714.6 C977.3,713.4 982.7,712.4 988.0,711.8 C993.3,711.2 998.7,710.9 1004.0,710.8 C1009.3,710.8 1014.7,711.1 1020.0,711.7 C1025.3,712.2 1030.7,713.1 1036.0,714.2 C1041.3,715.3 1046.7,716.7 1052.0,718.2 C1057.3,719.8 1062.7,721.7 1068.0,723.7 C1073.3,725.7 1078.7,728.0 1084.0,730.4 C1089.3,732.8 1094.7,735.5 1100.0,738.3 C1105.3,741.1 1110.7,744.1 1116.0,747.2 C1121.3,750.3 1126.7,753.6 1132.0,757.1 C1137.3,760.5 1142.7,764.0 1148.0,767.7 C1153.3,771.4 1158.7,775.2 1164.0,779.1 C1169.3,782.9 1174.7,786.9 1180.0,791.0 C1185.3,795.0 1190.7,799.2 1196.0,803.3 C1201.3,807.5 1206.7,811.8 1212.0,816.1 C1217.3,820.3 1222.7,824.7 1228.0,829.0 C1233.3,833.3 1238.7,837.7 1244.0,842.1 C1249.3,846.4 1254.7,850.8 1260.0,855.1 C1265.3,859.5 1270.7,863.8 1276.0,868.1 C1281.3,872.4 1286.7,876.7 1292.0,880.9 C1297.3,885.2 1302.7,889.4 1308.0,893.6 C1313.3,897.7 1318.7,901.8 1324.0,905.8 C1329.3,909.9 1334.7,913.9 1340.0,917.7 C1345.3,921.6 1350.7,925.4 1356.0,929.1 C1361.3,932.9 1366.7,936.5 1372.0,940.0 C1377.3,943.5 1382.7,946.9 1388.0,950.2 C1393.3,953.5 1398.7,956.6 1404.0,959.7 C1409.3,962.7 1414.7,965.6 1420.0,968.3 C1425.3,971.1 1430.7,973.6 1436.0,976.1 C1441.3,978.6 1446.7,980.9 1452.0,983.1 C1457.3,985.3 1462.7,987.4 1468.0,989.4 C1473.3,991.4 1478.7,993.2 1484.0,995.0 C1489.3,996.8 1494.7,998.4 1500.0,1000.0 C1505.3,1001.5 1510.7,1003.0 1516.0,1004.4 C1521.3,1005.8 1526.7,1007.1 1532.0,1008.3 C1537.3,1009.5 1542.7,1010.7 1548.0,1011.8 C1553.3,1012.9 1558.7,1013.9 1564.0,1014.9 C1569.3,1015.9 1574.7,1016.8 1580.0,1017.7 C1585.3,1018.6 1590.7,1019.4 1596.0,1020.2 C1601.3,1021.0 1606.7,1021.8 1612.0,1022.5 C1617.3,1023.2 1622.7,1023.9 1628.0,1024.5 C1633.3,1025.2 1638.7,1025.8 1644.0,1026.3 C1649.3,1026.9 1654.7,1027.4 1660.0,1027.9 C1665.3,1028.4 1670.7,1028.9 1676.0,1029.3 C1681.3,1029.8 1686.7,1030.2 1692.0,1030.6 C1697.3,1030.9 1702.7,1031.3 1708.0,1031.6 C1713.3,1031.9 1718.7,1032.2 1724.0,1032.5 C1729.3,1032.7 1734.7,1033.0 1740.0,1033.2 C1745.3,1033.4 1750.7,1033.6 1756.0,1033.8 C1761.3,1034.0 1766.7,1034.1 1772.0,1034.2 C1777.3,1034.4 1782.7,1034.5 1788.0,1034.6 C1793.3,1034.7 1798.7,1034.8 1804.0,1034.8 C1809.3,1034.9 1814.7,1034.9 1820.0,1035.0 C1825.3,1035.0 1830.7,1035.0 1836.0,1035.0 C1841.3,1035.0 1846.7,1035.0 1852.0,1035.0 C1857.3,1035.0 1862.7,1035.0 1868.0,1035.0 C1873.3,1034.9 1878.7,1034.9 1884.0,1034.9 C1889.3,1034.8 1894.7,1034.8 1900.0,1034.7 C1905.3,1034.7 1910.7,1034.6 1916.0,1034.6 C1921.3,1034.5 1926.7,1034.5 1932.0,1034.4 C1937.3,1034.3 1942.7,1034.3 1948.0,1034.2 C1953.3,1034.2 1958.7,1034.1 1964.0,1034.1 C1969.3,1034.0 1974.7,1034.0 1980.0,1033.9 C1985.3,1033.9 1990.7,1033.9 1996.0,1033.9 C2001.3,1033.8 2006.7,1033.8 2012.0,1033.8 C2017.3,1033.8 2022.7,1033.8 2028.0,1033.8 C2033.3,1033.8 2038.7,1033.9 2044.0,1033.9 C2049.3,1033.9 2054.7,1033.9 2060.0,1034.0 C2065.3,1034.0 2070.7,1034.1 2076.0,1034.1 C2081.3,1034.1 2086.7,1034.2 2092.0,1034.2 C2097.3,1034.3 2102.7,1034.4 2108.0,1034.4 C2113.3,1034.5 2118.7,1034.5 2124.0,1034.6 C2129.3,1034.6 2134.7,1034.7 2140.0,1034.8 C2145.3,1034.8 2150.7,1034.9 2156.0,1034.9 C2161.3,1035.0 2166.7,1035.0 2172.0,1035.1 C2177.3,1035.1 2182.7,1035.2 2188.0,1035.2 C2193.3,1035.3 2198.7,1035.3 2204.0,1035.4 C2209.3,1035.4 2214.7,1035.4 2220.0,1035.4 C2225.3,1035.5 2230.7,1035.5 2236.0,1035.5 C2241.3,1035.5 2246.7,1035.5 2252.0,1035.5 C2257.3,1035.5 2262.7,1035.5 2268.0,1035.4 C2273.3,1035.4 2278.7,1035.4 2284.0,1035.3 C2289.3,1035.3 2294.7,1035.2 2300.0,1035.2 C2305.3,1035.1 2310.7,1035.0 2316.0,1034.9 C2321.3,1034.8 2327.8,1034.7 2332.0,1034.6 C2336.2,1034.5 2339.7,1034.4 2341.2,1034.4" stroke="#ff5500" stroke-width="6.1"/>
<path d="M284.5,559.5 C284.8,561.0 285.1,563.7 286.1,568.6 C287.2,573.5 289.2,580.0 290.9,589.0 C292.6,598.1 294.4,611.7 296.3,623.1 C298.3,634.4 300.5,645.7 302.5,657.1 C304.4,668.4 306.1,679.8 307.9,691.1 C309.7,702.5 311.4,713.8 313.3,725.1 C315.3,736.5 317.8,750.0 319.5,759.2 C321.2,768.3 322.2,773.8 323.6,780.0 C324.9,786.2 326.1,790.2 327.6,796.3 C329.2,802.5 331.3,810.4 333.1,816.7 C334.9,823.1 336.7,829.0 338.5,834.4 C340.3,839.9 342.2,844.7 344.0,849.4 C345.8,854.2 347.6,858.7 349.4,863.0 C351.2,867.3 352.8,871.5 354.9,875.3 C356.9,879.0 359.4,882.8 361.7,885.5 C363.9,888.2 366.2,890.0 368.5,891.6 C370.7,893.2 373.0,894.3 375.3,895.0 C377.5,895.7 378.7,895.8 382.1,896.0 C385.5,896.1 391.2,896.0 395.7,896.0 C400.2,896.0 405.9,895.6 409.3,896.0 C412.7,896.4 413.8,897.4 416.1,898.4 C418.4,899.4 420.6,900.6 422.9,901.8 C425.2,903.1 427.5,904.5 429.7,905.9 C432.0,907.3 434.3,908.6 436.5,910.0 C438.8,911.3 441.1,912.7 443.3,914.1 C445.6,915.4 447.9,916.8 450.1,918.2 C452.4,919.5 454.7,920.8 456.9,922.2 C459.2,923.7 461.5,925.4 463.7,927.0 C466.0,928.6 468.3,930.1 470.6,931.8 C472.8,933.5 475.1,935.3 477.4,937.2 C479.6,939.1 481.9,941.3 484.2,943.3 C486.4,945.4 488.7,947.4 491.0,949.5 C493.2,951.5 495.5,953.9 497.8,955.6 C500.0,957.3 502.3,958.5 504.6,959.7 C506.8,960.8 509.1,961.7 511.4,962.4 C513.7,963.1 515.9,963.6 518.2,964.0 C520.5,964.4 521.6,964.7 525.0,964.8 C528.4,965.0 534.1,965.1 538.6,965.1 C543.1,965.2 547.7,965.1 552.2,965.1 C556.8,965.1 561.2,965.1 565.8,965.1 C570.5,965.1 574.2,965.1 580.0,965.1 C585.8,965.1 593.6,965.1 600.4,965.1 C607.2,965.1 614.7,965.2 620.8,965.1 C627.0,965.0 632.6,965.0 637.2,964.4 C641.7,963.9 644.0,962.8 648.1,961.7 C652.1,960.6 657.1,959.2 661.7,957.6 C666.2,956.0 670.7,954.1 675.3,952.2 C679.8,950.3 684.8,948.0 688.9,946.1 C693.0,944.1 695.5,942.9 700.0,940.5 C704.5,938.2 710.7,934.7 716.0,931.8 C721.3,928.8 726.7,925.9 732.0,922.7 C737.3,919.6 742.7,916.3 748.0,913.1 C753.3,909.9 758.7,906.7 764.0,903.5 C769.3,900.4 774.7,897.2 780.0,894.0 C785.3,890.9 790.7,887.8 796.0,884.8 C801.3,881.7 806.7,878.7 812.0,875.9 C817.3,873.0 822.7,870.2 828.0,867.5 C833.3,864.8 838.7,862.2 844.0,859.8 C849.3,857.4 854.7,855.1 860.0,853.1 C865.3,851.0 870.7,849.0 876.0,847.3 C881.3,845.6 886.7,844.1 892.0,842.9 C897.3,841.6 902.7,840.6 908.0,839.8 C913.3,839.0 918.7,838.5 924.0,838.1 C929.3,837.8 934.7,837.7 940.0,837.8 C945.3,837.9 950.7,838.2 956.0,838.7 C961.3,839.2 966.7,839.9 972.0,840.7 C977.3,841.6 982.7,842.6 988.0,843.8 C993.3,844.9 998.7,846.3 1004.0,847.8 C1009.3,849.3 1014.7,850.9 1020.0,852.6 C1025.3,854.4 1030.7,856.3 1036.0,858.2 C1041.3,860.2 1046.7,862.3 1052.0,864.5 C1057.3,866.7 1062.7,869.0 1068.0,871.3 C1073.3,873.7 1078.7,876.1 1084.0,878.6 C1089.3,881.1 1094.7,883.6 1100.0,886.3 C1105.3,888.9 1110.7,891.5 1116.0,894.2 C1121.3,896.9 1126.7,899.6 1132.0,902.4 C1137.3,905.1 1142.7,907.9 1148.0,910.7 C1153.3,913.4 1158.7,916.2 1164.0,919.0 C1169.3,921.8 1174.7,924.6 1180.0,927.3 C1185.3,930.1 1190.7,932.8 1196.0,935.5 C1201.3,938.3 1206.7,941.0 1212.0,943.6 C1217.3,946.3 1222.7,948.9 1228.0,951.5 C1233.3,954.0 1238.7,956.6 1244.0,959.1 C1249.3,961.5 1254.7,964.0 1260.0,966.4 C1265.3,968.7 1270.7,971.1 1276.0,973.3 C1281.3,975.6 1286.7,977.8 1292.0,980.0 C1297.3,982.1 1302.7,984.3 1308.0,986.3 C1313.3,988.3 1318.7,990.3 1324.0,992.2 C1329.3,994.2 1334.7,996.0 1340.0,997.8 C1345.3,999.6 1350.7,1001.3 1356.0,1003.0 C1361.3,1004.6 1366.7,1006.2 1372.0,1007.7 C1377.3,1009.3 1382.7,1010.7 1388.0,1012.1 C1393.3,1013.4 1398.7,1014.7 1404.0,1016.0 C1409.3,1017.2 1414.7,1018.3 1420.0,1019.4 C1425.3,1020.5 1430.7,1021.5 1436.0,1022.4 C1441.3,1023.3 1446.7,1024.1 1452.0,1024.9 C1457.3,1025.7 1462.7,1026.4 1468.0,1027.1 C1473.3,1027.7 1478.7,1028.3 1484.0,1028.9 C1489.3,1029.4 1494.7,1029.9 1500.0,1030.4 C1505.3,1030.8 1510.7,1031.2 1516.0,1031.6 C1521.3,1031.9 1526.7,1032.2 1532.0,1032.5 C1537.3,1032.8 1542.7,1033.0 1548.0,1033.3 C1553.3,1033.5 1558.7,1033.7 1564.0,1033.8 C1569.3,1034.0 1574.7,1034.1 1580.0,1034.2 C1585.3,1034.4 1590.7,1034.5 1596.0,1034.6 C1601.3,1034.7 1606.7,1034.7 1612.0,1034.8 C1617.3,1034.9 1622.7,1034.9 1628.0,1035.0 C1633.3,1035.1 1638.7,1035.1 1644.0,1035.2 C1649.3,1035.3 1654.7,1035.3 1660.0,1035.4 C1665.3,1035.4 1670.7,1035.4 1676.0,1035.5 C1681.3,1035.5 1686.7,1035.6 1692.0,1035.6 C1697.3,1035.6 1702.7,1035.7 1708.0,1035.7 C1713.3,1035.7 1718.7,1035.7 1724.0,1035.8 C1729.3,1035.8 1734.7,1035.8 1740.0,1035.8 C1745.3,1035.8 1750.7,1035.8 1756.0,1035.9 C1761.3,1035.9 1766.7,1035.9 1772.0,1035.9 C1777.3,1035.9 1782.7,1035.9 1788.0,1035.9 C1793.3,1035.9 1798.7,1035.9 1804.0,1035.9 C1809.3,1035.9 1814.7,1035.9 1820.0,1035.9 C1825.3,1035.8 1830.7,1035.8 1836.0,1035.8 C1841.3,1035.8 1846.7,1035.8 1852.0,1035.8 C1857.3,1035.8 1862.7,1035.7 1868.0,1035.7 C1873.3,1035.7 1878.7,1035.7 1884.0,1035.7 C1889.3,1035.7 1894.7,1035.6 1900.0,1035.6 C1905.3,1035.6 1910.7,1035.6 1916.0,1035.5 C1921.3,1035.5 1926.7,1035.5 1932.0,1035.5 C1937.3,1035.4 1942.7,1035.4 1948.0,1035.4 C1953.3,1035.4 1958.7,1035.3 1964.0,1035.3 C1969.3,1035.3 1974.7,1035.3 1980.0,1035.2 C1985.3,1035.2 1990.7,1035.2 1996.0,1035.2 C2001.3,1035.1 2006.7,1035.1 2012.0,1035.1 C2017.3,1035.0 2022.7,1035.0 2028.0,1035.0 C2033.3,1035.0 2038.7,1035.0 2044.0,1034.9 C2049.3,1034.9 2054.7,1034.9 2060.0,1034.9 C2065.3,1034.8 2070.7,1034.8 2076.0,1034.8 C2081.3,1034.8 2086.7,1034.8 2092.0,1034.8 C2097.3,1034.7 2102.7,1034.7 2108.0,1034.7 C2113.3,1034.7 2118.7,1034.7 2124.0,1034.7 C2129.3,1034.7 2134.7,1034.7 2140.0,1034.7 C2145.3,1034.7 2150.7,1034.7 2156.0,1034.7 C2161.3,1034.7 2166.7,1034.7 2172.0,1034.7 C2177.3,1034.7 2182.7,1034.7 2188.0,1034.7 C2193.3,1034.7 2198.7,1034.7 2204.0,1034.7 C2209.3,1034.7 2214.7,1034.7 2220.0,1034.8 C2225.3,1034.8 2230.7,1034.8 2236.0,1034.8 C2241.3,1034.9 2246.7,1034.9 2252.0,1034.9 C2257.3,1035.0 2262.7,1035.0 2268.0,1035.0 C2273.3,1035.1 2278.7,1035.1 2284.0,1035.2 C2289.3,1035.2 2294.7,1035.3 2300.0,1035.3 C2305.3,1035.4 2310.7,1035.4 2316.0,1035.5 C2321.3,1035.6 2327.8,1035.7 2332.0,1035.7 C2336.2,1035.8 2339.7,1035.8 2341.2,1035.8" stroke="#000000" stroke-width="5.3"/>
<path d="M299.7,559.8 C300.4,564.6 302.3,578.5 303.8,589.0 C305.3,599.6 307.0,611.7 308.9,623.1 C310.7,634.4 312.7,645.7 314.7,657.1 C316.7,668.4 318.8,679.8 320.8,691.1 C322.9,702.5 324.8,713.8 327.0,725.1 C329.1,736.5 332.1,750.0 333.8,759.2 C335.5,768.3 335.9,774.3 337.2,780.0 C338.4,785.7 339.7,788.6 341.2,793.6 C342.8,798.6 344.9,804.5 346.7,809.9 C348.5,815.4 350.3,821.5 352.1,826.3 C354.0,831.0 355.8,834.9 357.6,838.5 C359.4,842.2 361.2,845.4 363.0,848.1 C364.8,850.7 366.4,852.5 368.5,854.2 C370.5,855.8 373.0,857.2 375.3,857.9 C377.5,858.5 379.8,858.5 382.1,858.3 C384.4,858.0 386.6,857.1 388.9,856.2 C391.2,855.3 393.4,854.0 395.7,852.8 C398.0,851.7 400.2,850.6 402.5,849.4 C404.8,848.3 407.0,847.1 409.3,846.0 C411.6,844.9 413.8,843.6 416.1,842.6 C418.4,841.6 420.6,840.7 422.9,840.2 C425.2,839.6 427.5,839.4 429.7,839.2 C432.0,839.0 434.3,838.8 436.5,838.8 C438.8,838.8 441.1,838.9 443.3,839.2 C445.6,839.5 447.9,839.9 450.1,840.6 C452.4,841.2 454.7,842.2 456.9,843.3 C459.2,844.4 461.5,845.9 463.7,847.4 C466.0,848.8 468.3,850.3 470.6,852.1 C472.8,854.0 475.1,855.8 477.4,858.3 C479.6,860.8 481.9,863.8 484.2,867.1 C486.4,870.4 488.7,874.1 491.0,878.0 C493.2,881.9 495.5,886.2 497.8,890.2 C500.0,894.3 502.3,898.8 504.6,902.5 C506.8,906.2 509.1,909.6 511.4,912.7 C513.7,915.8 515.9,918.5 518.2,920.9 C520.5,923.3 522.7,925.2 525.0,927.0 C527.3,928.8 529.5,930.4 531.8,931.8 C534.1,933.1 536.3,934.1 538.6,935.2 C540.9,936.2 543.1,937.0 545.4,937.9 C547.7,938.8 550.0,939.8 552.2,940.6 C554.5,941.4 556.8,942.0 559.0,942.7 C561.3,943.3 563.6,943.9 565.8,944.4 C568.1,945.0 570.3,945.4 572.6,946.1 C575.0,946.7 576.5,946.5 580.0,948.1 C583.5,949.7 589.1,953.6 593.6,955.6 C598.1,957.6 602.7,958.8 607.2,959.9 C611.8,961.1 616.3,961.9 620.8,962.4 C625.4,962.9 627.6,963.0 634.4,963.1 C641.2,963.2 652.6,963.1 661.7,963.1 C670.7,963.1 682.5,963.1 688.9,963.1 C695.3,963.0 695.5,963.2 700.0,962.6 C704.5,962.0 710.7,961.0 716.0,959.6 C721.3,958.3 726.7,956.5 732.0,954.5 C737.3,952.6 742.7,950.2 748.0,947.9 C753.3,945.5 758.7,943.0 764.0,940.3 C769.3,937.6 774.7,934.8 780.0,931.8 C785.3,928.9 790.7,925.8 796.0,922.7 C801.3,919.5 806.7,916.3 812.0,913.0 C817.3,909.7 822.7,906.3 828.0,902.9 C833.3,899.5 838.7,896.1 844.0,892.7 C849.3,889.3 854.7,885.9 860.0,882.5 C865.3,879.1 870.7,875.7 876.0,872.4 C881.3,869.0 886.7,865.7 892.0,862.3 C897.3,859.0 902.7,855.7 908.0,852.3 C913.3,849.0 918.7,845.7 924.0,842.3 C929.3,839.0 934.7,835.7 940.0,832.4 C945.3,829.1 950.7,825.8 956.0,822.6 C961.3,819.4 966.7,816.3 972.0,813.2 C977.3,810.1 982.7,807.2 988.0,804.3 C993.3,801.4 998.7,798.7 1004.0,796.0 C1009.3,793.4 1014.7,790.9 1020.0,788.6 C1025.3,786.3 1030.7,784.1 1036.0,782.2 C1041.3,780.2 1046.7,778.4 1052.0,776.9 C1057.3,775.3 1062.7,773.9 1068.0,772.8 C1073.3,771.7 1078.7,770.8 1084.0,770.2 C1089.3,769.6 1094.7,769.3 1100.0,769.2 C1105.3,769.0 1110.7,769.2 1116.0,769.5 C1121.3,769.8 1126.7,770.3 1132.0,771.1 C1137.3,771.8 1142.7,772.7 1148.0,773.8 C1153.3,774.9 1158.7,776.2 1164.0,777.6 C1169.3,779.1 1174.7,780.7 1180.0,782.4 C1185.3,784.1 1190.7,786.0 1196.0,787.9 C1201.3,789.9 1206.7,792.0 1212.0,794.1 C1217.3,796.3 1222.7,798.6 1228.0,800.9 C1233.3,803.3 1238.7,805.7 1244.0,808.1 C1249.3,810.6 1254.7,813.2 1260.0,815.7 C1265.3,818.3 1270.7,821.0 1276.0,823.7 C1281.3,826.4 1286.7,829.1 1292.0,831.9 C1297.3,834.7 1302.7,837.5 1308.0,840.3 C1313.3,843.2 1318.7,846.1 1324.0,849.0 C1329.3,851.9 1334.7,854.8 1340.0,857.8 C1345.3,860.7 1350.7,863.7 1356.0,866.7 C1361.3,869.7 1366.7,872.7 1372.0,875.7 C1377.3,878.7 1382.7,881.7 1388.0,884.7 C1393.3,887.7 1398.7,890.7 1404.0,893.7 C1409.3,896.7 1414.7,899.6 1420.0,902.6 C1425.3,905.6 1430.7,908.5 1436.0,911.4 C1441.3,914.3 1446.7,917.2 1452.0,920.1 C1457.3,923.0 1462.7,925.8 1468.0,928.6 C1473.3,931.4 1478.7,934.1 1484.0,936.8 C1489.3,939.6 1494.7,942.2 1500.0,944.8 C1505.3,947.4 1510.7,950.0 1516.0,952.5 C1521.3,955.0 1526.7,957.4 1532.0,959.8 C1537.3,962.1 1542.7,964.4 1548.0,966.7 C1553.3,968.9 1558.7,971.0 1564.0,973.1 C1569.3,975.2 1574.7,977.2 1580.0,979.1 C1585.3,981.0 1590.7,982.8 1596.0,984.6 C1601.3,986.3 1606.7,988.0 1612.0,989.6 C1617.3,991.3 1622.7,992.8 1628.0,994.3 C1633.3,995.8 1638.7,997.2 1644.0,998.5 C1649.3,999.9 1654.7,1001.1 1660.0,1002.4 C1665.3,1003.6 1670.7,1004.7 1676.0,1005.9 C1681.3,1007.0 1686.7,1008.0 1692.0,1009.0 C1697.3,1010.0 1702.7,1010.9 1708.0,1011.8 C1713.3,1012.7 1718.7,1013.5 1724.0,1014.3 C1729.3,1015.1 1734.7,1015.8 1740.0,1016.5 C1745.3,1017.2 1750.7,1017.8 1756.0,1018.4 C1761.3,1019.0 1766.7,1019.6 1772.0,1020.1 C1777.3,1020.6 1782.7,1021.1 1788.0,1021.6 C1793.3,1022.0 1798.7,1022.4 1804.0,1022.8 C1809.3,1023.2 1814.7,1023.5 1820.0,1023.8 C1825.3,1024.2 1830.7,1024.4 1836.0,1024.7 C1841.3,1025.0 1846.7,1025.2 1852.0,1025.4 C1857.3,1025.6 1862.7,1025.8 1868.0,1026.0 C1873.3,1026.1 1878.7,1026.3 1884.0,1026.4 C1889.3,1026.6 1894.7,1026.7 1900.0,1026.8 C1905.3,1026.9 1910.7,1027.0 1916.0,1027.0 C1921.3,1027.1 1926.7,1027.2 1932.0,1027.2 C1937.3,1027.3 1942.7,1027.4 1948.0,1027.4 C1953.3,1027.4 1958.7,1027.5 1964.0,1027.5 C1969.3,1027.6 1974.7,1027.6 1980.0,1027.7 C1985.3,1027.7 1990.7,1027.8 1996.0,1027.8 C2001.3,1027.9 2006.7,1027.9 2012.0,1028.0 C2017.3,1028.0 2022.7,1028.1 2028.0,1028.2 C2033.3,1028.2 2038.7,1028.3 2044.0,1028.4 C2049.3,1028.5 2054.7,1028.5 2060.0,1028.6 C2065.3,1028.7 2070.7,1028.8 2076.0,1028.9 C2081.3,1028.9 2086.7,1029.0 2092.0,1029.1 C2097.3,1029.2 2102.7,1029.3 2108.0,1029.4 C2113.3,1029.4 2118.7,1029.5 2124.0,1029.6 C2129.3,1029.7 2134.7,1029.7 2140.0,1029.8 C2145.3,1029.9 2150.7,1030.0 2156.0,1030.0 C2161.3,1030.1 2166.7,1030.2 2172.0,1030.2 C2177.3,1030.3 2182.7,1030.3 2188.0,1030.4 C2193.3,1030.4 2198.7,1030.5 2204.0,1030.5 C2209.3,1030.5 2214.7,1030.6 2220.0,1030.6 C2225.3,1030.6 2230.7,1030.6 2236.0,1030.6 C2241.3,1030.6 2246.7,1030.6 2252.0,1030.6 C2257.3,1030.6 2262.7,1030.6 2268.0,1030.5 C2273.3,1030.5 2278.7,1030.5 2284.0,1030.4 C2289.3,1030.4 2294.7,1030.3 2300.0,1030.2 C2305.3,1030.1 2310.7,1030.1 2316.0,1030.0 C2321.3,1029.9 2327.8,1029.7 2332.0,1029.6 C2336.2,1029.5 2339.7,1029.4 2341.2,1029.4" stroke="#00bb00" stroke-width="6.1"/>
<path d="M283.4,819.5 C283.7,822.4 284.4,831.0 285.4,837.2 C286.5,843.3 287.9,849.9 289.5,856.2 C291.1,862.6 292.9,868.7 295.0,875.3 C297.0,881.9 299.5,889.3 301.8,895.7 C304.0,902.0 306.3,908.2 308.6,913.4 C310.9,918.6 313.1,922.7 315.4,927.0 C317.7,931.3 319.9,935.6 322.2,939.2 C324.5,942.9 326.7,945.9 329.0,948.8 C331.3,951.6 333.5,954.0 335.8,956.3 C338.1,958.5 340.3,960.7 342.6,962.4 C344.9,964.0 347.1,965.3 349.4,966.2 C351.7,967.1 353.0,967.3 356.2,967.6 C359.4,967.8 364.2,967.9 368.5,967.8 C372.8,967.8 377.5,967.7 382.1,967.2 C386.6,966.6 391.8,965.3 395.7,964.4 C399.5,963.5 402.3,962.6 405.2,961.7 C408.2,960.8 410.7,959.8 413.4,959.0 C416.1,958.2 418.8,957.3 421.6,956.9 C424.3,956.6 426.5,956.7 429.7,956.7 C432.9,956.6 437.2,956.5 440.6,956.7 C444.0,956.9 447.0,957.2 450.1,957.8 C453.3,958.3 456.3,959.4 459.7,959.9 C463.1,960.5 466.5,960.8 470.6,961.0 C474.6,961.2 479.6,961.0 484.2,961.0 C488.7,961.0 493.7,960.8 497.8,961.0 C501.9,961.3 505.0,961.8 508.7,962.7 C512.3,963.6 515.9,964.9 519.6,966.5 C523.2,968.0 526.8,970.0 530.4,971.9 C534.1,973.8 537.7,976.2 541.3,978.0 C545.0,979.9 548.1,981.1 552.2,982.8 C556.3,984.5 561.2,986.5 565.8,988.2 C570.5,989.9 575.4,991.7 580.0,993.0 C584.6,994.4 589.1,995.3 593.6,996.4 C598.1,997.5 602.7,998.8 607.2,999.8 C611.8,1000.8 615.4,1001.7 620.8,1002.5 C626.3,1003.4 634.1,1004.3 640.0,1004.8 C645.9,1005.4 650.7,1005.7 656.0,1006.0 C661.3,1006.4 666.7,1006.7 672.0,1007.0 C677.3,1007.2 682.7,1007.5 688.0,1007.7 C693.3,1008.0 698.7,1008.2 704.0,1008.3 C709.3,1008.5 714.7,1008.6 720.0,1008.6 C725.3,1008.5 730.7,1008.4 736.0,1008.2 C741.3,1008.0 746.7,1007.7 752.0,1007.3 C757.3,1007.0 762.7,1006.5 768.0,1006.1 C773.3,1005.6 778.7,1005.0 784.0,1004.4 C789.3,1003.8 794.7,1003.1 800.0,1002.4 C805.3,1001.6 810.7,1000.8 816.0,999.9 C821.3,999.1 826.7,998.1 832.0,997.2 C837.3,996.2 842.7,995.1 848.0,994.0 C853.3,992.9 858.7,991.8 864.0,990.5 C869.3,989.3 874.7,988.0 880.0,986.7 C885.3,985.4 890.7,984.0 896.0,982.6 C901.3,981.1 906.7,979.6 912.0,978.1 C917.3,976.6 922.7,975.0 928.0,973.3 C933.3,971.7 938.7,970.0 944.0,968.3 C949.3,966.5 954.7,964.7 960.0,962.9 C965.3,961.1 970.7,959.2 976.0,957.3 C981.3,955.4 986.7,953.4 992.0,951.5 C997.3,949.5 1002.7,947.5 1008.0,945.5 C1013.3,943.6 1018.7,941.6 1024.0,939.6 C1029.3,937.6 1034.7,935.6 1040.0,933.6 C1045.3,931.7 1050.7,929.7 1056.0,927.8 C1061.3,925.9 1066.7,924.0 1072.0,922.2 C1077.3,920.3 1082.7,918.5 1088.0,916.8 C1093.3,915.1 1098.7,913.4 1104.0,911.8 C1109.3,910.1 1114.7,908.6 1120.0,907.1 C1125.3,905.7 1130.7,904.3 1136.0,903.0 C1141.3,901.7 1146.7,900.5 1152.0,899.4 C1157.3,898.3 1162.7,897.3 1168.0,896.3 C1173.3,895.4 1178.7,894.5 1184.0,893.7 C1189.3,892.9 1194.7,892.2 1200.0,891.5 C1205.3,890.9 1210.7,890.3 1216.0,889.8 C1221.3,889.2 1226.7,888.8 1232.0,888.4 C1237.3,887.9 1242.7,887.6 1248.0,887.3 C1253.3,887.0 1258.7,886.7 1264.0,886.6 C1269.3,886.4 1274.7,886.2 1280.0,886.1 C1285.3,886.0 1290.7,886.0 1296.0,886.0 C1301.3,886.0 1306.7,886.1 1312.0,886.3 C1317.3,886.5 1322.7,886.7 1328.0,887.1 C1333.3,887.4 1338.7,887.9 1344.0,888.4 C1349.3,889.0 1354.7,889.6 1360.0,890.4 C1365.3,891.2 1370.7,892.1 1376.0,893.1 C1381.3,894.1 1386.7,895.2 1392.0,896.4 C1397.3,897.6 1402.7,898.9 1408.0,900.2 C1413.3,901.6 1418.7,903.0 1424.0,904.5 C1429.3,906.1 1434.7,907.6 1440.0,909.3 C1445.3,910.9 1450.7,912.6 1456.0,914.3 C1461.3,916.0 1466.7,917.7 1472.0,919.4 C1477.3,921.2 1482.7,922.9 1488.0,924.6 C1493.3,926.3 1498.7,928.1 1504.0,929.7 C1509.3,931.4 1514.7,933.0 1520.0,934.6 C1525.3,936.2 1530.7,937.8 1536.0,939.3 C1541.3,940.8 1546.7,942.3 1552.0,943.8 C1557.3,945.3 1562.7,946.8 1568.0,948.3 C1573.3,949.8 1578.7,951.2 1584.0,952.7 C1589.3,954.2 1594.7,955.7 1600.0,957.1 C1605.3,958.6 1610.7,960.1 1616.0,961.5 C1621.3,963.0 1626.7,964.5 1632.0,965.9 C1637.3,967.4 1642.7,968.8 1648.0,970.3 C1653.3,971.7 1658.7,973.1 1664.0,974.6 C1669.3,976.0 1674.7,977.4 1680.0,978.8 C1685.3,980.2 1690.7,981.6 1696.0,982.9 C1701.3,984.3 1706.7,985.6 1712.0,986.9 C1717.3,988.3 1722.7,989.6 1728.0,990.8 C1733.3,992.1 1738.7,993.4 1744.0,994.6 C1749.3,995.8 1754.7,997.1 1760.0,998.2 C1765.3,999.4 1770.7,1000.6 1776.0,1001.7 C1781.3,1002.8 1786.7,1003.9 1792.0,1004.9 C1797.3,1006.0 1802.7,1007.0 1808.0,1008.0 C1813.3,1009.0 1818.7,1010.0 1824.0,1010.9 C1829.3,1011.8 1834.7,1012.7 1840.0,1013.6 C1845.3,1014.4 1850.7,1015.2 1856.0,1016.0 C1861.3,1016.8 1866.7,1017.6 1872.0,1018.3 C1877.3,1019.1 1882.7,1019.8 1888.0,1020.4 C1893.3,1021.1 1898.7,1021.7 1904.0,1022.3 C1909.3,1022.9 1914.7,1023.5 1920.0,1024.1 C1925.3,1024.6 1930.7,1025.1 1936.0,1025.6 C1941.3,1026.1 1946.7,1026.6 1952.0,1027.0 C1957.3,1027.4 1962.7,1027.8 1968.0,1028.2 C1973.3,1028.6 1978.7,1028.9 1984.0,1029.2 C1989.3,1029.5 1994.7,1029.8 2000.0,1030.1 C2005.3,1030.3 2010.7,1030.6 2016.0,1030.8 C2021.3,1031.0 2026.7,1031.2 2032.0,1031.3 C2037.3,1031.5 2042.7,1031.6 2048.0,1031.7 C2053.3,1031.8 2058.7,1031.9 2064.0,1032.0 C2069.3,1032.0 2074.7,1032.1 2080.0,1032.1 C2085.3,1032.2 2090.7,1032.2 2096.0,1032.2 C2101.3,1032.2 2106.7,1032.2 2112.0,1032.2 C2117.3,1032.2 2122.7,1032.1 2128.0,1032.1 C2133.3,1032.1 2138.7,1032.0 2144.0,1032.0 C2149.3,1031.9 2154.7,1031.9 2160.0,1031.8 C2165.3,1031.8 2170.7,1031.7 2176.0,1031.6 C2181.3,1031.6 2186.7,1031.5 2192.0,1031.5 C2197.3,1031.4 2202.7,1031.4 2208.0,1031.3 C2213.3,1031.3 2218.7,1031.3 2224.0,1031.2 C2229.3,1031.2 2234.7,1031.2 2240.0,1031.2 C2245.3,1031.2 2250.7,1031.2 2256.0,1031.2 C2261.3,1031.2 2266.7,1031.2 2272.0,1031.3 C2277.3,1031.3 2282.7,1031.4 2288.0,1031.4 C2293.3,1031.5 2298.7,1031.6 2304.0,1031.7 C2309.3,1031.9 2314.7,1032.0 2320.0,1032.2 C2325.3,1032.3 2332.5,1032.6 2336.0,1032.8 C2339.5,1032.9 2340.4,1032.9 2341.2,1033.0" stroke="#ff00ff" stroke-width="6.1"/>
</g>
<clipPath id="c_p3"><rect x="283.8" y="1069.0" width="2057.2" height="480.3"/></clipPath>
<g clip-path="url(#c_p3)" fill="none" stroke-linejoin="round">
<path d="M283.4,1451.5 C284.2,1452.9 286.2,1457.2 288.1,1459.7 C290.1,1462.2 292.2,1464.3 294.9,1466.5 C297.6,1468.6 301.0,1470.8 304.4,1472.6 C307.8,1474.3 311.2,1475.6 315.3,1477.0 C319.3,1478.5 324.3,1480.1 328.8,1481.4 C333.3,1482.7 337.4,1483.7 342.4,1484.8 C347.4,1485.9 353.2,1487.0 358.7,1487.9 C364.1,1488.8 368.8,1489.6 374.9,1490.2 C381.0,1490.8 388.5,1491.3 395.3,1491.6 C402.1,1491.8 407.7,1491.9 415.6,1492.0 C423.5,1492.0 433.7,1492.0 442.8,1492.0 C451.8,1492.0 463.7,1491.9 469.9,1492.0 C476.1,1492.0 475.6,1491.9 480.0,1492.3 C484.4,1492.7 490.7,1493.5 496.0,1494.3 C501.3,1495.0 506.7,1495.8 512.0,1496.5 C517.3,1497.3 522.7,1498.1 528.0,1498.8 C533.3,1499.6 538.7,1500.2 544.0,1500.9 C549.3,1501.5 554.7,1502.1 560.0,1502.7 C565.3,1503.3 570.7,1503.9 576.0,1504.5 C581.3,1505.1 586.7,1505.7 592.0,1506.3 C597.3,1506.8 602.7,1507.4 608.0,1508.0 C613.3,1508.5 618.7,1509.1 624.0,1509.6 C629.3,1510.1 634.7,1510.6 640.0,1511.0 C645.3,1511.5 650.7,1512.0 656.0,1512.4 C661.3,1512.8 666.7,1513.1 672.0,1513.5 C677.3,1513.8 682.7,1514.1 688.0,1514.4 C693.3,1514.7 698.7,1515.0 704.0,1515.2 C709.3,1515.4 714.7,1515.6 720.0,1515.8 C725.3,1515.9 730.7,1516.0 736.0,1516.1 C741.3,1516.2 746.7,1516.3 752.0,1516.4 C757.3,1516.4 762.7,1516.4 768.0,1516.4 C773.3,1516.4 778.7,1516.3 784.0,1516.2 C789.3,1516.2 794.7,1516.1 800.0,1515.9 C805.3,1515.8 810.7,1515.6 816.0,1515.4 C821.3,1515.2 826.7,1515.0 832.0,1514.8 C837.3,1514.5 842.7,1514.2 848.0,1513.9 C853.3,1513.6 858.7,1513.3 864.0,1512.9 C869.3,1512.5 874.7,1512.1 880.0,1511.7 C885.3,1511.3 890.7,1510.9 896.0,1510.4 C901.3,1509.9 906.7,1509.5 912.0,1509.0 C917.3,1508.5 922.7,1507.9 928.0,1507.4 C933.3,1506.9 938.7,1506.4 944.0,1505.8 C949.3,1505.3 954.7,1504.7 960.0,1504.1 C965.3,1503.6 970.7,1503.0 976.0,1502.4 C981.3,1501.8 986.7,1501.3 992.0,1500.7 C997.3,1500.1 1002.7,1499.5 1008.0,1499.0 C1013.3,1498.4 1018.7,1497.8 1024.0,1497.3 C1029.3,1496.7 1034.7,1496.2 1040.0,1495.6 C1045.3,1495.1 1050.7,1494.6 1056.0,1494.1 C1061.3,1493.6 1066.7,1493.1 1072.0,1492.6 C1077.3,1492.1 1082.7,1491.7 1088.0,1491.2 C1093.3,1490.8 1098.7,1490.4 1104.0,1490.0 C1109.3,1489.6 1114.7,1489.3 1120.0,1488.9 C1125.3,1488.6 1130.7,1488.3 1136.0,1488.1 C1141.3,1487.8 1146.7,1487.6 1152.0,1487.4 C1157.3,1487.2 1162.7,1487.0 1168.0,1486.9 C1173.3,1486.8 1178.7,1486.7 1184.0,1486.7 C1189.3,1486.7 1194.7,1486.7 1200.0,1486.8 C1205.3,1486.8 1210.7,1486.9 1216.0,1487.1 C1221.3,1487.3 1226.7,1487.5 1232.0,1487.8 C1237.3,1488.0 1242.7,1488.4 1248.0,1488.7 C1253.3,1489.1 1258.7,1489.6 1264.0,1490.1 C1269.3,1490.6 1274.7,1491.2 1280.0,1491.8 C1285.3,1492.4 1290.7,1493.1 1296.0,1493.8 C1301.3,1494.5 1306.7,1495.3 1312.0,1496.1 C1317.3,1496.8 1322.7,1497.7 1328.0,1498.5 C1333.3,1499.4 1338.7,1500.3 1344.0,1501.2 C1349.3,1502.1 1354.7,1503.1 1360.0,1504.0 C1365.3,1505.0 1370.7,1505.9 1376.0,1506.9 C1381.3,1507.9 1386.7,1508.8 1392.0,1509.8 C1397.3,1510.8 1402.7,1511.7 1408.0,1512.7 C1413.3,1513.7 1418.7,1514.6 1424.0,1515.5 C1429.3,1516.5 1434.7,1517.4 1440.0,1518.3 C1445.3,1519.2 1450.7,1520.0 1456.0,1520.9 C1461.3,1521.7 1466.7,1522.5 1472.0,1523.2 C1477.3,1524.0 1482.7,1524.7 1488.0,1525.4 C1493.3,1526.1 1498.7,1526.8 1504.0,1527.4 C1509.3,1528.1 1514.7,1528.7 1520.0,1529.3 C1525.3,1529.8 1530.7,1530.4 1536.0,1530.9 C1541.3,1531.4 1546.7,1531.9 1552.0,1532.4 C1557.3,1532.9 1562.7,1533.3 1568.0,1533.7 C1573.3,1534.2 1578.7,1534.6 1584.0,1534.9 C1589.3,1535.3 1594.7,1535.7 1600.0,1536.0 C1605.3,1536.4 1610.7,1536.7 1616.0,1537.0 C1621.3,1537.3 1626.7,1537.6 1632.0,1537.8 C1637.3,1538.1 1642.7,1538.3 1648.0,1538.6 C1653.3,1538.8 1658.7,1539.0 1664.0,1539.2 C1669.3,1539.4 1674.7,1539.6 1680.0,1539.8 C1685.3,1540.0 1690.7,1540.1 1696.0,1540.3 C1701.3,1540.4 1706.7,1540.6 1712.0,1540.7 C1717.3,1540.8 1722.7,1540.9 1728.0,1541.0 C1733.3,1541.1 1738.7,1541.2 1744.0,1541.3 C1749.3,1541.4 1754.7,1541.5 1760.0,1541.5 C1765.3,1541.6 1770.7,1541.7 1776.0,1541.7 C1781.3,1541.8 1786.7,1541.8 1792.0,1541.9 C1797.3,1541.9 1802.7,1541.9 1808.0,1541.9 C1813.3,1542.0 1818.7,1542.0 1824.0,1542.0 C1829.3,1542.0 1834.7,1542.0 1840.0,1542.0 C1845.3,1542.0 1850.7,1542.0 1856.0,1542.0 C1861.3,1542.0 1866.7,1542.0 1872.0,1542.0 C1877.3,1542.0 1882.7,1542.0 1888.0,1542.0 C1893.3,1542.0 1898.7,1542.0 1904.0,1542.0 C1909.3,1542.0 1914.7,1542.0 1920.0,1542.0 C1925.3,1541.9 1930.7,1541.9 1936.0,1541.9 C1941.3,1541.9 1946.7,1541.9 1952.0,1541.9 C1957.3,1541.9 1962.7,1541.9 1968.0,1541.9 C1973.3,1541.9 1978.7,1541.9 1984.0,1541.9 C1989.3,1541.9 1994.7,1542.0 2000.0,1542.0 C2005.3,1542.0 2010.7,1542.0 2016.0,1542.0 C2021.3,1542.0 2026.7,1542.1 2032.0,1542.1 C2037.3,1542.1 2042.7,1542.1 2048.0,1542.2 C2053.3,1542.2 2058.7,1542.2 2064.0,1542.3 C2069.3,1542.3 2074.7,1542.3 2080.0,1542.3 C2085.3,1542.4 2090.7,1542.4 2096.0,1542.4 C2101.3,1542.4 2106.7,1542.5 2112.0,1542.5 C2117.3,1542.5 2122.7,1542.5 2128.0,1542.6 C2133.3,1542.6 2138.7,1542.6 2144.0,1542.6 C2149.3,1542.6 2154.7,1542.7 2160.0,1542.7 C2165.3,1542.7 2170.7,1542.7 2176.0,1542.7 C2181.3,1542.7 2186.7,1542.7 2192.0,1542.7 C2197.3,1542.7 2202.7,1542.7 2208.0,1542.7 C2213.3,1542.7 2218.7,1542.7 2224.0,1542.6 C2229.3,1542.6 2234.7,1542.6 2240.0,1542.6 C2245.3,1542.5 2250.7,1542.5 2256.0,1542.4 C2261.3,1542.4 2266.7,1542.3 2272.0,1542.3 C2277.3,1542.2 2282.7,1542.2 2288.0,1542.1 C2293.3,1542.0 2298.7,1541.9 2304.0,1541.8 C2309.3,1541.8 2314.7,1541.7 2320.0,1541.5 C2325.3,1541.4 2332.6,1541.3 2336.0,1541.2 C2339.4,1541.1 2339.7,1541.1 2340.5,1541.1" stroke="#0080ff" stroke-width="6.1"/>
<path d="M283.4,1290.4 C283.7,1293.3 284.4,1301.9 285.4,1308.1 C286.5,1314.2 287.9,1321.0 289.5,1327.1 C291.1,1333.2 292.9,1339.1 295.0,1344.8 C297.0,1350.5 299.3,1355.9 301.8,1361.1 C304.3,1366.4 307.0,1371.3 309.9,1376.1 C312.9,1380.9 316.1,1385.6 319.5,1389.7 C322.9,1393.8 326.5,1397.2 330.4,1400.6 C334.2,1404.0 338.3,1407.2 342.6,1410.1 C346.9,1413.1 351.7,1416.0 356.2,1418.3 C360.8,1420.6 365.3,1422.2 369.8,1423.7 C374.4,1425.3 378.9,1426.7 383.4,1427.8 C388.0,1428.9 392.5,1429.7 397.1,1430.3 C401.6,1430.8 406.1,1431.2 410.7,1431.2 C415.2,1431.3 419.7,1431.0 424.3,1430.6 C428.8,1430.1 433.4,1429.3 437.9,1428.5 C442.4,1427.7 447.0,1426.6 451.5,1425.8 C456.0,1425.0 460.4,1424.1 465.1,1423.5 C469.9,1422.9 474.9,1422.6 480.0,1422.3 C485.1,1422.1 490.7,1422.0 496.0,1422.2 C501.3,1422.3 506.7,1422.6 512.0,1423.3 C517.3,1424.0 522.7,1425.2 528.0,1426.3 C533.3,1427.4 538.7,1428.7 544.0,1429.9 C549.3,1431.2 554.7,1432.4 560.0,1433.6 C565.3,1434.9 570.7,1436.2 576.0,1437.4 C581.3,1438.7 586.7,1440.0 592.0,1441.2 C597.3,1442.4 602.7,1443.6 608.0,1444.8 C613.3,1446.0 618.7,1447.2 624.0,1448.3 C629.3,1449.4 634.7,1450.6 640.0,1451.6 C645.3,1452.7 650.7,1453.8 656.0,1454.8 C661.3,1455.8 666.7,1456.8 672.0,1457.7 C677.3,1458.7 682.7,1459.6 688.0,1460.4 C693.3,1461.3 698.7,1462.1 704.0,1462.8 C709.3,1463.6 714.7,1464.3 720.0,1465.0 C725.3,1465.6 730.7,1466.3 736.0,1466.8 C741.3,1467.4 746.7,1467.9 752.0,1468.3 C757.3,1468.7 762.7,1469.1 768.0,1469.4 C773.3,1469.7 778.7,1470.0 784.0,1470.2 C789.3,1470.3 794.7,1470.5 800.0,1470.5 C805.3,1470.5 810.7,1470.5 816.0,1470.4 C821.3,1470.3 826.7,1470.1 832.0,1469.8 C837.3,1469.5 842.7,1469.2 848.0,1468.7 C853.3,1468.3 858.7,1467.8 864.0,1467.1 C869.3,1466.5 874.7,1465.8 880.0,1465.0 C885.3,1464.2 890.7,1463.4 896.0,1462.4 C901.3,1461.4 906.7,1460.3 912.0,1459.1 C917.3,1457.9 922.7,1456.6 928.0,1455.3 C933.3,1453.9 938.7,1452.4 944.0,1450.9 C949.3,1449.4 954.7,1447.8 960.0,1446.2 C965.3,1444.6 970.7,1442.9 976.0,1441.2 C981.3,1439.6 986.7,1437.8 992.0,1436.1 C997.3,1434.4 1002.7,1432.7 1008.0,1431.0 C1013.3,1429.3 1018.7,1427.7 1024.0,1426.0 C1029.3,1424.4 1034.7,1422.8 1040.0,1421.2 C1045.3,1419.6 1050.7,1418.1 1056.0,1416.4 C1061.3,1414.8 1066.7,1413.1 1072.0,1411.4 C1077.3,1409.6 1082.7,1407.8 1088.0,1405.9 C1093.3,1404.0 1098.7,1402.0 1104.0,1400.0 C1109.3,1398.0 1114.7,1396.0 1120.0,1394.1 C1125.3,1392.2 1130.7,1390.3 1136.0,1388.6 C1141.3,1386.9 1146.7,1385.2 1152.0,1383.7 C1157.3,1382.2 1162.7,1380.8 1168.0,1379.4 C1173.3,1378.1 1178.7,1376.9 1184.0,1375.7 C1189.3,1374.5 1194.7,1373.4 1200.0,1372.4 C1205.3,1371.4 1210.7,1370.4 1216.0,1369.5 C1221.3,1368.5 1226.7,1367.6 1232.0,1366.8 C1237.3,1365.9 1242.7,1365.1 1248.0,1364.3 C1253.3,1363.4 1258.7,1362.6 1264.0,1361.9 C1269.3,1361.2 1274.7,1360.5 1280.0,1360.0 C1285.3,1359.4 1290.7,1358.9 1296.0,1358.6 C1301.3,1358.3 1306.7,1358.1 1312.0,1358.0 C1317.3,1358.0 1322.7,1358.1 1328.0,1358.4 C1333.3,1358.8 1338.7,1359.3 1344.0,1360.0 C1349.3,1360.8 1354.7,1361.8 1360.0,1363.0 C1365.3,1364.2 1370.7,1365.7 1376.0,1367.4 C1381.3,1369.1 1386.7,1371.0 1392.0,1373.1 C1397.3,1375.2 1402.7,1377.6 1408.0,1380.0 C1413.3,1382.5 1418.7,1385.2 1424.0,1388.0 C1429.3,1390.8 1434.7,1393.7 1440.0,1396.8 C1445.3,1399.9 1450.7,1403.1 1456.0,1406.4 C1461.3,1409.7 1466.7,1413.2 1472.0,1416.6 C1477.3,1420.1 1482.7,1423.7 1488.0,1427.3 C1493.3,1430.9 1498.7,1434.5 1504.0,1438.1 C1509.3,1441.7 1514.7,1445.3 1520.0,1448.9 C1525.3,1452.4 1530.7,1455.9 1536.0,1459.3 C1541.3,1462.7 1546.7,1466.0 1552.0,1469.2 C1557.3,1472.3 1562.7,1475.3 1568.0,1478.2 C1573.3,1481.1 1578.7,1483.7 1584.0,1486.3 C1589.3,1488.8 1594.7,1491.1 1600.0,1493.4 C1605.3,1495.6 1610.7,1497.7 1616.0,1499.6 C1621.3,1501.6 1626.7,1503.4 1632.0,1505.1 C1637.3,1506.8 1642.7,1508.4 1648.0,1509.9 C1653.3,1511.4 1658.7,1512.8 1664.0,1514.1 C1669.3,1515.4 1674.7,1516.6 1680.0,1517.8 C1685.3,1518.9 1690.7,1520.0 1696.0,1521.0 C1701.3,1522.0 1706.7,1522.9 1712.0,1523.8 C1717.3,1524.7 1722.7,1525.5 1728.0,1526.2 C1733.3,1527.0 1738.7,1527.7 1744.0,1528.3 C1749.3,1528.9 1754.7,1529.5 1760.0,1530.1 C1765.3,1530.6 1770.7,1531.1 1776.0,1531.5 C1781.3,1532.0 1786.7,1532.3 1792.0,1532.7 C1797.3,1533.1 1802.7,1533.4 1808.0,1533.7 C1813.3,1533.9 1818.7,1534.2 1824.0,1534.4 C1829.3,1534.6 1834.7,1534.8 1840.0,1535.0 C1845.3,1535.1 1850.7,1535.3 1856.0,1535.4 C1861.3,1535.5 1866.7,1535.6 1872.0,1535.7 C1877.3,1535.8 1882.7,1535.9 1888.0,1535.9 C1893.3,1536.0 1898.7,1536.0 1904.0,1536.1 C1909.3,1536.1 1914.7,1536.2 1920.0,1536.2 C1925.3,1536.3 1930.7,1536.3 1936.0,1536.3 C1941.3,1536.4 1946.7,1536.4 1952.0,1536.4 C1957.3,1536.4 1962.7,1536.5 1968.0,1536.5 C1973.3,1536.5 1978.7,1536.5 1984.0,1536.5 C1989.3,1536.6 1994.7,1536.6 2000.0,1536.6 C2005.3,1536.6 2010.7,1536.6 2016.0,1536.6 C2021.3,1536.6 2026.7,1536.6 2032.0,1536.7 C2037.3,1536.7 2042.7,1536.7 2048.0,1536.7 C2053.3,1536.7 2058.7,1536.7 2064.0,1536.7 C2069.3,1536.7 2074.7,1536.7 2080.0,1536.8 C2085.3,1536.8 2090.7,1536.8 2096.0,1536.8 C2101.3,1536.8 2106.7,1536.8 2112.0,1536.8 C2117.3,1536.9 2122.7,1536.9 2128.0,1536.9 C2133.3,1536.9 2138.7,1537.0 2144.0,1537.0 C2149.3,1537.0 2154.7,1537.1 2160.0,1537.1 C2165.3,1537.1 2170.7,1537.2 2176.0,1537.2 C2181.3,1537.3 2186.7,1537.3 2192.0,1537.4 C2197.3,1537.4 2202.7,1537.5 2208.0,1537.5 C2213.3,1537.6 2218.7,1537.7 2224.0,1537.7 C2229.3,1537.8 2234.7,1537.9 2240.0,1538.0 C2245.3,1538.1 2250.7,1538.2 2256.0,1538.3 C2261.3,1538.4 2266.7,1538.5 2272.0,1538.6 C2277.3,1538.7 2282.7,1538.8 2288.0,1538.9 C2293.3,1539.1 2298.7,1539.2 2304.0,1539.3 C2309.3,1539.5 2314.7,1539.6 2320.0,1539.8 C2325.3,1540.0 2332.6,1540.2 2336.0,1540.3 C2339.4,1540.4 2339.7,1540.4 2340.5,1540.5" stroke="#ff5500" stroke-width="6.1"/>
<path d="M284.1,1372.0 C284.8,1374.3 285.9,1381.0 288.2,1385.6 C290.4,1390.3 294.5,1396.0 297.6,1400.0 C300.8,1404.0 303.7,1406.4 307.1,1409.5 C310.5,1412.5 313.9,1415.3 318.0,1418.3 C322.0,1421.4 327.0,1425.0 331.5,1427.8 C336.1,1430.6 340.6,1433.0 345.1,1435.3 C349.6,1437.5 354.1,1439.4 358.7,1441.4 C363.2,1443.3 367.7,1445.1 372.2,1446.8 C376.7,1448.5 381.3,1450.1 385.8,1451.5 C390.3,1453.0 394.8,1454.3 399.4,1455.3 C403.9,1456.4 408.4,1457.4 412.9,1458.0 C417.4,1458.7 419.2,1459.2 426.5,1459.4 C433.7,1459.6 447.4,1459.4 456.3,1459.4 C465.2,1459.4 473.4,1459.4 480.0,1459.4 C486.6,1459.4 490.7,1459.3 496.0,1459.6 C501.3,1459.8 506.7,1460.3 512.0,1461.0 C517.3,1461.7 522.7,1462.9 528.0,1463.9 C533.3,1464.9 538.7,1465.9 544.0,1466.9 C549.3,1467.9 554.7,1468.8 560.0,1469.7 C565.3,1470.6 570.7,1471.5 576.0,1472.4 C581.3,1473.2 586.7,1474.1 592.0,1474.9 C597.3,1475.8 602.7,1476.6 608.0,1477.4 C613.3,1478.1 618.7,1478.9 624.0,1479.5 C629.3,1480.2 634.7,1480.8 640.0,1481.3 C645.3,1481.9 650.7,1482.4 656.0,1482.8 C661.3,1483.2 666.7,1483.6 672.0,1483.9 C677.3,1484.3 682.7,1484.5 688.0,1484.8 C693.3,1485.0 698.7,1485.2 704.0,1485.3 C709.3,1485.4 714.7,1485.5 720.0,1485.6 C725.3,1485.6 730.7,1485.6 736.0,1485.6 C741.3,1485.5 746.7,1485.5 752.0,1485.3 C757.3,1485.2 762.7,1485.1 768.0,1484.9 C773.3,1484.7 778.7,1484.5 784.0,1484.3 C789.3,1484.0 794.7,1483.7 800.0,1483.4 C805.3,1483.1 810.7,1482.8 816.0,1482.4 C821.3,1482.1 826.7,1481.7 832.0,1481.3 C837.3,1480.9 842.7,1480.5 848.0,1480.0 C853.3,1479.6 858.7,1479.1 864.0,1478.6 C869.3,1478.2 874.7,1477.7 880.0,1477.2 C885.3,1476.7 890.7,1476.2 896.0,1475.6 C901.3,1475.1 906.7,1474.6 912.0,1474.1 C917.3,1473.6 922.7,1473.1 928.0,1472.5 C933.3,1472.0 938.7,1471.5 944.0,1471.0 C949.3,1470.5 954.7,1470.0 960.0,1469.6 C965.3,1469.1 970.7,1468.7 976.0,1468.2 C981.3,1467.8 986.7,1467.4 992.0,1467.0 C997.3,1466.6 1002.7,1466.2 1008.0,1465.8 C1013.3,1465.4 1018.7,1465.0 1024.0,1464.6 C1029.3,1464.2 1034.7,1463.9 1040.0,1463.5 C1045.3,1463.1 1050.7,1462.7 1056.0,1462.3 C1061.3,1461.9 1066.7,1461.4 1072.0,1461.0 C1077.3,1460.6 1082.7,1460.1 1088.0,1459.6 C1093.3,1459.1 1098.7,1458.6 1104.0,1458.1 C1109.3,1457.6 1114.7,1457.1 1120.0,1456.6 C1125.3,1456.1 1130.7,1455.6 1136.0,1455.1 C1141.3,1454.6 1146.7,1454.1 1152.0,1453.6 C1157.3,1453.1 1162.7,1452.7 1168.0,1452.2 C1173.3,1451.8 1178.7,1451.4 1184.0,1451.0 C1189.3,1450.7 1194.7,1450.3 1200.0,1450.0 C1205.3,1449.8 1210.7,1449.5 1216.0,1449.3 C1221.3,1449.1 1226.7,1449.0 1232.0,1448.9 C1237.3,1448.8 1242.7,1448.8 1248.0,1448.8 C1253.3,1448.9 1258.7,1449.0 1264.0,1449.2 C1269.3,1449.4 1274.7,1449.7 1280.0,1450.0 C1285.3,1450.4 1290.7,1450.9 1296.0,1451.4 C1301.3,1451.9 1306.7,1452.6 1312.0,1453.3 C1317.3,1454.0 1322.7,1454.9 1328.0,1455.7 C1333.3,1456.6 1338.7,1457.6 1344.0,1458.6 C1349.3,1459.6 1354.7,1460.7 1360.0,1461.9 C1365.3,1463.0 1370.7,1464.2 1376.0,1465.4 C1381.3,1466.7 1386.7,1467.9 1392.0,1469.2 C1397.3,1470.5 1402.7,1471.8 1408.0,1473.2 C1413.3,1474.5 1418.7,1475.9 1424.0,1477.2 C1429.3,1478.6 1434.7,1479.9 1440.0,1481.3 C1445.3,1482.7 1450.7,1484.0 1456.0,1485.3 C1461.3,1486.7 1466.7,1488.0 1472.0,1489.3 C1477.3,1490.5 1482.7,1491.8 1488.0,1493.0 C1493.3,1494.2 1498.7,1495.4 1504.0,1496.5 C1509.3,1497.6 1514.7,1498.7 1520.0,1499.7 C1525.3,1500.7 1530.7,1501.6 1536.0,1502.5 C1541.3,1503.4 1546.7,1504.2 1552.0,1505.0 C1557.3,1505.8 1562.7,1506.5 1568.0,1507.2 C1573.3,1507.9 1578.7,1508.5 1584.0,1509.1 C1589.3,1509.8 1594.7,1510.3 1600.0,1510.8 C1605.3,1511.4 1610.7,1511.9 1616.0,1512.3 C1621.3,1512.8 1626.7,1513.2 1632.0,1513.6 C1637.3,1514.0 1642.7,1514.4 1648.0,1514.7 C1653.3,1515.1 1658.7,1515.4 1664.0,1515.7 C1669.3,1516.0 1674.7,1516.3 1680.0,1516.5 C1685.3,1516.8 1690.7,1517.1 1696.0,1517.3 C1701.3,1517.6 1706.7,1517.8 1712.0,1518.0 C1717.3,1518.2 1722.7,1518.5 1728.0,1518.7 C1733.3,1518.9 1738.7,1519.1 1744.0,1519.3 C1749.3,1519.5 1754.7,1519.7 1760.0,1519.9 C1765.3,1520.1 1770.7,1520.3 1776.0,1520.6 C1781.3,1520.8 1786.7,1521.0 1792.0,1521.2 C1797.3,1521.4 1802.7,1521.6 1808.0,1521.8 C1813.3,1522.0 1818.7,1522.2 1824.0,1522.4 C1829.3,1522.6 1834.7,1522.8 1840.0,1523.0 C1845.3,1523.2 1850.7,1523.4 1856.0,1523.6 C1861.3,1523.8 1866.7,1524.0 1872.0,1524.2 C1877.3,1524.4 1882.7,1524.6 1888.0,1524.8 C1893.3,1525.0 1898.7,1525.2 1904.0,1525.4 C1909.3,1525.6 1914.7,1525.8 1920.0,1526.0 C1925.3,1526.2 1930.7,1526.4 1936.0,1526.6 C1941.3,1526.8 1946.7,1527.0 1952.0,1527.2 C1957.3,1527.4 1962.7,1527.6 1968.0,1527.8 C1973.3,1528.0 1978.7,1528.2 1984.0,1528.5 C1989.3,1528.7 1994.7,1528.9 2000.0,1529.1 C2005.3,1529.3 2010.7,1529.5 2016.0,1529.8 C2021.3,1530.0 2026.7,1530.2 2032.0,1530.4 C2037.3,1530.7 2042.7,1530.9 2048.0,1531.1 C2053.3,1531.3 2058.7,1531.6 2064.0,1531.8 C2069.3,1532.0 2074.7,1532.2 2080.0,1532.4 C2085.3,1532.7 2090.7,1532.9 2096.0,1533.1 C2101.3,1533.3 2106.7,1533.5 2112.0,1533.8 C2117.3,1534.0 2122.7,1534.2 2128.0,1534.4 C2133.3,1534.6 2138.7,1534.8 2144.0,1535.0 C2149.3,1535.3 2154.7,1535.5 2160.0,1535.7 C2165.3,1535.9 2170.7,1536.1 2176.0,1536.3 C2181.3,1536.5 2186.7,1536.7 2192.0,1536.9 C2197.3,1537.0 2202.7,1537.2 2208.0,1537.4 C2213.3,1537.6 2218.7,1537.8 2224.0,1537.9 C2229.3,1538.1 2234.7,1538.3 2240.0,1538.4 C2245.3,1538.6 2250.7,1538.8 2256.0,1538.9 C2261.3,1539.1 2266.7,1539.2 2272.0,1539.3 C2277.3,1539.5 2282.7,1539.6 2288.0,1539.7 C2293.3,1539.9 2298.7,1540.0 2304.0,1540.1 C2309.3,1540.2 2314.7,1540.3 2320.0,1540.4 C2325.3,1540.5 2332.6,1540.6 2336.0,1540.7 C2339.4,1540.7 2339.7,1540.7 2340.5,1540.7" stroke="#000000" stroke-width="5.3"/>
<path d="M283.4,1255.0 C283.7,1258.1 284.4,1267.4 285.4,1274.0 C286.5,1280.6 287.9,1287.9 289.5,1294.4 C291.1,1301.0 292.9,1307.4 295.0,1313.5 C297.0,1319.6 299.3,1325.7 301.8,1331.2 C304.3,1336.6 307.0,1341.6 309.9,1346.2 C312.9,1350.7 316.1,1354.8 319.5,1358.4 C322.9,1362.0 326.5,1365.2 330.4,1367.9 C334.2,1370.7 338.3,1372.7 342.6,1374.7 C346.9,1376.8 351.7,1378.6 356.2,1380.2 C360.8,1381.8 365.3,1383.1 369.8,1384.3 C374.4,1385.4 378.9,1386.4 383.4,1387.0 C388.0,1387.6 392.5,1388.0 397.1,1388.1 C401.6,1388.2 406.1,1388.2 410.7,1387.7 C415.2,1387.2 419.7,1386.1 424.3,1385.0 C428.8,1383.8 433.4,1382.5 437.9,1380.9 C442.4,1379.3 447.0,1377.5 451.5,1375.4 C456.0,1373.4 460.4,1371.1 465.1,1368.6 C469.9,1366.1 474.9,1363.4 480.0,1360.4 C485.1,1357.4 490.7,1353.7 496.0,1350.8 C501.3,1347.9 506.7,1344.9 512.0,1343.0 C517.3,1341.0 522.7,1339.8 528.0,1339.1 C533.3,1338.5 538.7,1338.7 544.0,1339.1 C549.3,1339.6 554.7,1340.6 560.0,1341.9 C565.3,1343.2 570.7,1345.0 576.0,1346.9 C581.3,1348.8 586.7,1351.1 592.0,1353.4 C597.3,1355.7 602.7,1358.2 608.0,1360.8 C613.3,1363.5 618.7,1366.2 624.0,1369.1 C629.3,1371.9 634.7,1374.9 640.0,1377.8 C645.3,1380.8 650.7,1383.9 656.0,1386.9 C661.3,1390.0 666.7,1393.0 672.0,1396.1 C677.3,1399.1 682.7,1402.1 688.0,1405.1 C693.3,1408.0 698.7,1410.9 704.0,1413.7 C709.3,1416.4 714.7,1419.1 720.0,1421.7 C725.3,1424.2 730.7,1426.6 736.0,1428.9 C741.3,1431.2 746.7,1433.3 752.0,1435.3 C757.3,1437.3 762.7,1439.2 768.0,1440.9 C773.3,1442.7 778.7,1444.3 784.0,1445.7 C789.3,1447.2 794.7,1448.5 800.0,1449.7 C805.3,1450.8 810.7,1451.9 816.0,1452.8 C821.3,1453.6 826.7,1454.4 832.0,1455.0 C837.3,1455.6 842.7,1456.0 848.0,1456.3 C853.3,1456.6 858.7,1456.8 864.0,1456.8 C869.3,1456.8 874.7,1456.6 880.0,1456.3 C885.3,1456.0 890.7,1455.5 896.0,1454.9 C901.3,1454.3 906.7,1453.5 912.0,1452.6 C917.3,1451.6 922.7,1450.5 928.0,1449.3 C933.3,1448.0 938.7,1446.6 944.0,1445.0 C949.3,1443.4 954.7,1441.7 960.0,1439.9 C965.3,1438.0 970.7,1436.1 976.0,1434.0 C981.3,1432.0 986.7,1429.8 992.0,1427.6 C997.3,1425.4 1002.7,1423.0 1008.0,1420.7 C1013.3,1418.4 1018.7,1416.0 1024.0,1413.6 C1029.3,1411.2 1034.7,1408.7 1040.0,1406.3 C1045.3,1403.9 1050.7,1401.5 1056.0,1399.0 C1061.3,1396.5 1066.7,1394.1 1072.0,1391.5 C1077.3,1388.9 1082.7,1386.2 1088.0,1383.4 C1093.3,1380.5 1098.7,1377.6 1104.0,1374.4 C1109.3,1371.3 1114.7,1368.0 1120.0,1364.6 C1125.3,1361.2 1130.7,1357.7 1136.0,1354.2 C1141.3,1350.8 1146.7,1347.2 1152.0,1343.8 C1157.3,1340.3 1162.7,1336.9 1168.0,1333.5 C1173.3,1330.1 1178.7,1326.8 1184.0,1323.4 C1189.3,1320.0 1194.7,1316.7 1200.0,1313.4 C1205.3,1310.0 1210.7,1306.6 1216.0,1303.2 C1221.3,1299.8 1226.7,1296.4 1232.0,1292.9 C1237.3,1289.4 1242.7,1285.8 1248.0,1282.2 C1253.3,1278.6 1258.7,1274.8 1264.0,1271.1 C1269.3,1267.3 1274.7,1263.3 1280.0,1259.5 C1285.3,1255.6 1290.7,1251.7 1296.0,1247.9 C1301.3,1244.2 1306.7,1240.4 1312.0,1236.9 C1317.3,1233.5 1322.7,1230.1 1328.0,1227.1 C1333.3,1224.1 1338.7,1221.2 1344.0,1218.9 C1349.3,1216.5 1354.7,1214.4 1360.0,1212.8 C1365.3,1211.3 1370.7,1210.1 1376.0,1209.5 C1381.3,1208.9 1386.7,1208.8 1392.0,1209.1 C1397.3,1209.4 1402.7,1210.2 1408.0,1211.3 C1413.3,1212.5 1418.7,1214.1 1424.0,1216.0 C1429.3,1217.9 1434.7,1220.2 1440.0,1222.7 C1445.3,1225.3 1450.7,1228.2 1456.0,1231.3 C1461.3,1234.3 1466.7,1237.7 1472.0,1241.3 C1477.3,1244.8 1482.7,1248.6 1488.0,1252.6 C1493.3,1256.5 1498.7,1260.6 1504.0,1264.7 C1509.3,1268.9 1514.7,1273.2 1520.0,1277.5 C1525.3,1281.8 1530.7,1286.3 1536.0,1290.6 C1541.3,1295.0 1546.7,1299.4 1552.0,1303.7 C1557.3,1308.0 1562.7,1312.4 1568.0,1316.5 C1573.3,1320.7 1578.7,1324.8 1584.0,1328.7 C1589.3,1332.6 1594.7,1336.4 1600.0,1340.1 C1605.3,1343.7 1610.7,1347.2 1616.0,1350.5 C1621.3,1353.9 1626.7,1357.2 1632.0,1360.3 C1637.3,1363.4 1642.7,1366.5 1648.0,1369.4 C1653.3,1372.3 1658.7,1375.2 1664.0,1378.0 C1669.3,1380.8 1674.7,1383.4 1680.0,1386.1 C1685.3,1388.8 1690.7,1391.3 1696.0,1393.9 C1701.3,1396.4 1706.7,1399.0 1712.0,1401.4 C1717.3,1403.9 1722.7,1406.3 1728.0,1408.7 C1733.3,1411.1 1738.7,1413.4 1744.0,1415.8 C1749.3,1418.1 1754.7,1420.3 1760.0,1422.6 C1765.3,1424.8 1770.7,1427.0 1776.0,1429.1 C1781.3,1431.3 1786.7,1433.4 1792.0,1435.5 C1797.3,1437.5 1802.7,1439.6 1808.0,1441.6 C1813.3,1443.6 1818.7,1445.5 1824.0,1447.5 C1829.3,1449.4 1834.7,1451.3 1840.0,1453.1 C1845.3,1455.0 1850.7,1456.8 1856.0,1458.6 C1861.3,1460.3 1866.7,1462.1 1872.0,1463.8 C1877.3,1465.5 1882.7,1467.2 1888.0,1468.8 C1893.3,1470.5 1898.7,1472.1 1904.0,1473.6 C1909.3,1475.2 1914.7,1476.7 1920.0,1478.2 C1925.3,1479.7 1930.7,1481.2 1936.0,1482.6 C1941.3,1484.1 1946.7,1485.5 1952.0,1486.9 C1957.3,1488.2 1962.7,1489.6 1968.0,1490.9 C1973.3,1492.2 1978.7,1493.5 1984.0,1494.7 C1989.3,1495.9 1994.7,1497.1 2000.0,1498.3 C2005.3,1499.5 2010.7,1500.6 2016.0,1501.8 C2021.3,1502.9 2026.7,1504.0 2032.0,1505.0 C2037.3,1506.1 2042.7,1507.1 2048.0,1508.1 C2053.3,1509.1 2058.7,1510.0 2064.0,1511.0 C2069.3,1511.9 2074.7,1512.8 2080.0,1513.7 C2085.3,1514.6 2090.7,1515.4 2096.0,1516.2 C2101.3,1517.0 2106.7,1517.8 2112.0,1518.6 C2117.3,1519.3 2122.7,1520.0 2128.0,1520.7 C2133.3,1521.4 2138.7,1522.1 2144.0,1522.7 C2149.3,1523.4 2154.7,1524.0 2160.0,1524.6 C2165.3,1525.2 2170.7,1525.7 2176.0,1526.3 C2181.3,1526.8 2186.7,1527.3 2192.0,1527.8 C2197.3,1528.2 2202.7,1528.7 2208.0,1529.1 C2213.3,1529.5 2218.7,1529.9 2224.0,1530.3 C2229.3,1530.6 2234.7,1531.0 2240.0,1531.3 C2245.3,1531.6 2250.7,1531.9 2256.0,1532.1 C2261.3,1532.4 2266.7,1532.6 2272.0,1532.8 C2277.3,1533.1 2282.7,1533.2 2288.0,1533.4 C2293.3,1533.6 2298.7,1533.7 2304.0,1533.8 C2309.3,1533.9 2314.7,1534.0 2320.0,1534.0 C2325.3,1534.1 2332.6,1534.1 2336.0,1534.2 C2339.4,1534.2 2339.7,1534.2 2340.5,1534.2" stroke="#00bb00" stroke-width="6.1"/>
</g>
<text transform="translate(226.3,152.9) scale(0.940,1)" font-size="66" text-anchor="end">1.6</text>
<text transform="translate(226.3,346.0) scale(0.940,1)" font-size="66" text-anchor="end">0.8</text>
<text transform="translate(226.3,539.4) scale(0.940,1)" font-size="66" text-anchor="end">0</text>
<text transform="translate(226.3,655.5) scale(0.940,1)" font-size="66" text-anchor="end">6</text>
<text transform="translate(226.3,853.6) scale(0.940,1)" font-size="66" text-anchor="end">3</text>
<text transform="translate(226.3,1051.8) scale(0.940,1)" font-size="66" text-anchor="end">0</text>
<text transform="translate(226.3,1202.6) scale(0.940,1)" font-size="66" text-anchor="end">10</text>
<text transform="translate(226.3,1382.7) scale(0.940,1)" font-size="66" text-anchor="end">5</text>
<text transform="translate(226.3,1563.1) scale(0.940,1)" font-size="66" text-anchor="end">0</text>
<text transform="translate(489.3,1648.0) scale(0.940,1)" font-size="66" text-anchor="middle">400</text>
<text transform="translate(775.4,1648.0) scale(0.940,1)" font-size="66" text-anchor="middle">500</text>
<text transform="translate(1061.5,1648.0) scale(0.940,1)" font-size="66" text-anchor="middle">600</text>
<text transform="translate(1347.6,1648.0) scale(0.940,1)" font-size="66" text-anchor="middle">700</text>
<text transform="translate(1633.7,1648.0) scale(0.940,1)" font-size="66" text-anchor="middle">800</text>
<text transform="translate(1919.8,1648.0) scale(0.940,1)" font-size="66" text-anchor="middle">900</text>
<text transform="translate(2205.9,1648.0) scale(0.940,1)" font-size="66" text-anchor="middle">1000</text>
<text transform="translate(1103.2,1744.2) scale(1.130,1)" font-size="78" class="sym">λ</text>
<text x="1145.0" y="1744.2" font-size="86">,</text>
<text x="1192.0" y="1744.2" font-size="86">nm</text>
<g transform="translate(98,1064) rotate(-90)">
<text transform="translate(-3.2,1.0) scale(1.070,1)" font-size="75" class="sym">ε</text>
<text x="47.8" y="0.0" font-size="82">,</text>
<text x="87.8" y="0.0" font-size="82">10</text>
<text transform="translate(182.1,-38.5) scale(0.940,1)" font-size="58">3</text>
<text x="234.4" y="0.0" font-size="82">M</text>
<text x="305.3" y="-31.8" font-size="58" class="n">−</text>
<text x="333.6" y="-38.5" font-size="58">1</text>
<text x="369.4" y="0.0" font-size="82">·</text>
<text transform="translate(416.6,0.0) scale(0.967,1)" font-size="82">cm</text>
<text x="526.8" y="-31.8" font-size="58" class="n">−</text>
<text x="552.0" y="-38.5" font-size="58">1</text>
</g>
<text transform="translate(387.7,178.6) scale(0.977,1)" font-size="72" fill="#b00000">(1)</text>
<text transform="translate(388.5,680.7) scale(0.977,1)" font-size="72" fill="#b00000">(2)</text>
<text transform="translate(386.3,1189.0) scale(0.977,1)" font-size="72" fill="#b00000">(3)</text>
<path d="M778.5,111.9 V211.5" stroke="#000" stroke-width="2.4" stroke-dasharray="22 17.5" fill="none"/>
<path d="M1215.6,111.9 V293.4" stroke="#000" stroke-width="4.6" stroke-dasharray="22 17.5" fill="none"/>
<path d="M795.1,155.3 H1197.4" stroke="#000" stroke-width="3.0" fill="none"/><path d="M776.5,155.3 l31.0,-11.5 l-10.2,11.5 l10.2,11.5 z" fill="#000"/><path d="M1216.0,155.3 l-31.0,-11.5 l10.2,11.5 l-10.2,11.5 z" fill="#000"/>
<text transform="translate(910.7,137.1) scale(0.962,1)" font-size="57.8" fill="#ff0000">153 nm</text>
<path d="M901.9,598.0 V776.0" stroke="#000" stroke-width="4.5" stroke-dasharray="22 17.5" fill="none"/>
<path d="M1286.6,598.0 V887.0" stroke="#000" stroke-width="2.5" stroke-dasharray="22 17.5" fill="none"/>
<path d="M920.5,664.5 H1268.0" stroke="#000" stroke-width="6.0" fill="none"/><path d="M901.9,664.5 l31.0,-11.5 l-10.2,11.5 l10.2,11.5 z" fill="#000"/><path d="M1286.6,664.5 l-31.0,-11.5 l10.2,11.5 l-10.2,11.5 z" fill="#000"/>
<text transform="translate(1009.6,643.6) scale(0.962,1)" font-size="57.8" fill="#ff0000">137 nm</text>
<path d="M1213.0,1107.0 V1485.0" stroke="#000" stroke-width="5.0" stroke-dasharray="22 17.5" fill="none"/>
<path d="M1400.4,1107.0 V1207.0" stroke="#000" stroke-width="3.0" stroke-dasharray="22 17.5" fill="none"/>
<path d="M1231.6,1164.5 H1381.8" stroke="#000" stroke-width="6.0" fill="none"/><path d="M1213.0,1164.5 l31.0,-11.5 l-10.2,11.5 l10.2,11.5 z" fill="#000"/><path d="M1400.4,1164.5 l-31.0,-11.5 l10.2,11.5 l-10.2,11.5 z" fill="#000"/>
<text transform="translate(1227.7,1141.3) scale(0.962,1)" font-size="57.8" fill="#ff0000">58 nm</text>
<rect x="1537.8" y="63.8" width="771.9" height="263.2" fill="#fff" stroke="#000" stroke-width="2.2"/>
<path d="M1574.5,120.8 H1684.0" stroke="#0080ff" stroke-width="7.0"/>
<path d="M1952.7,120.8 H2062.0" stroke="#ff5500" stroke-width="7.0"/>
<path d="M1574.5,208.8 H1684.0" stroke="#000000" stroke-width="5.4"/>
<path d="M1967.2,209.0 H2077.0" stroke="#00bb00" stroke-width="5.5"/>
<path d="M1796.0,280.0 H1903.0" stroke="#ff00ff" stroke-width="7.5"/>
<text transform="translate(1696.0,137.0) scale(0.960,1)" font-size="57.5">CH<tspan dy="16.6" font-size="48">3</tspan><tspan dy="-16.6">CN</tspan></text>
<text transform="translate(2074.2,137.0) scale(0.960,1)" font-size="57.5">CH<tspan dy="16.6" font-size="48">2</tspan><tspan dy="-16.6">Cl</tspan><tspan dy="16.6" font-size="48">2</tspan></text>
<text transform="translate(1694.7,223.8) scale(0.960,1)" font-size="57.5">DMF</text>
<text transform="translate(2088.5,223.9) scale(0.960,1)" font-size="57.5">THF</text>
<text transform="translate(1917.0,295.9) scale(0.960,1)" font-size="57.5">Toluene</text>
</svg></body></html>
